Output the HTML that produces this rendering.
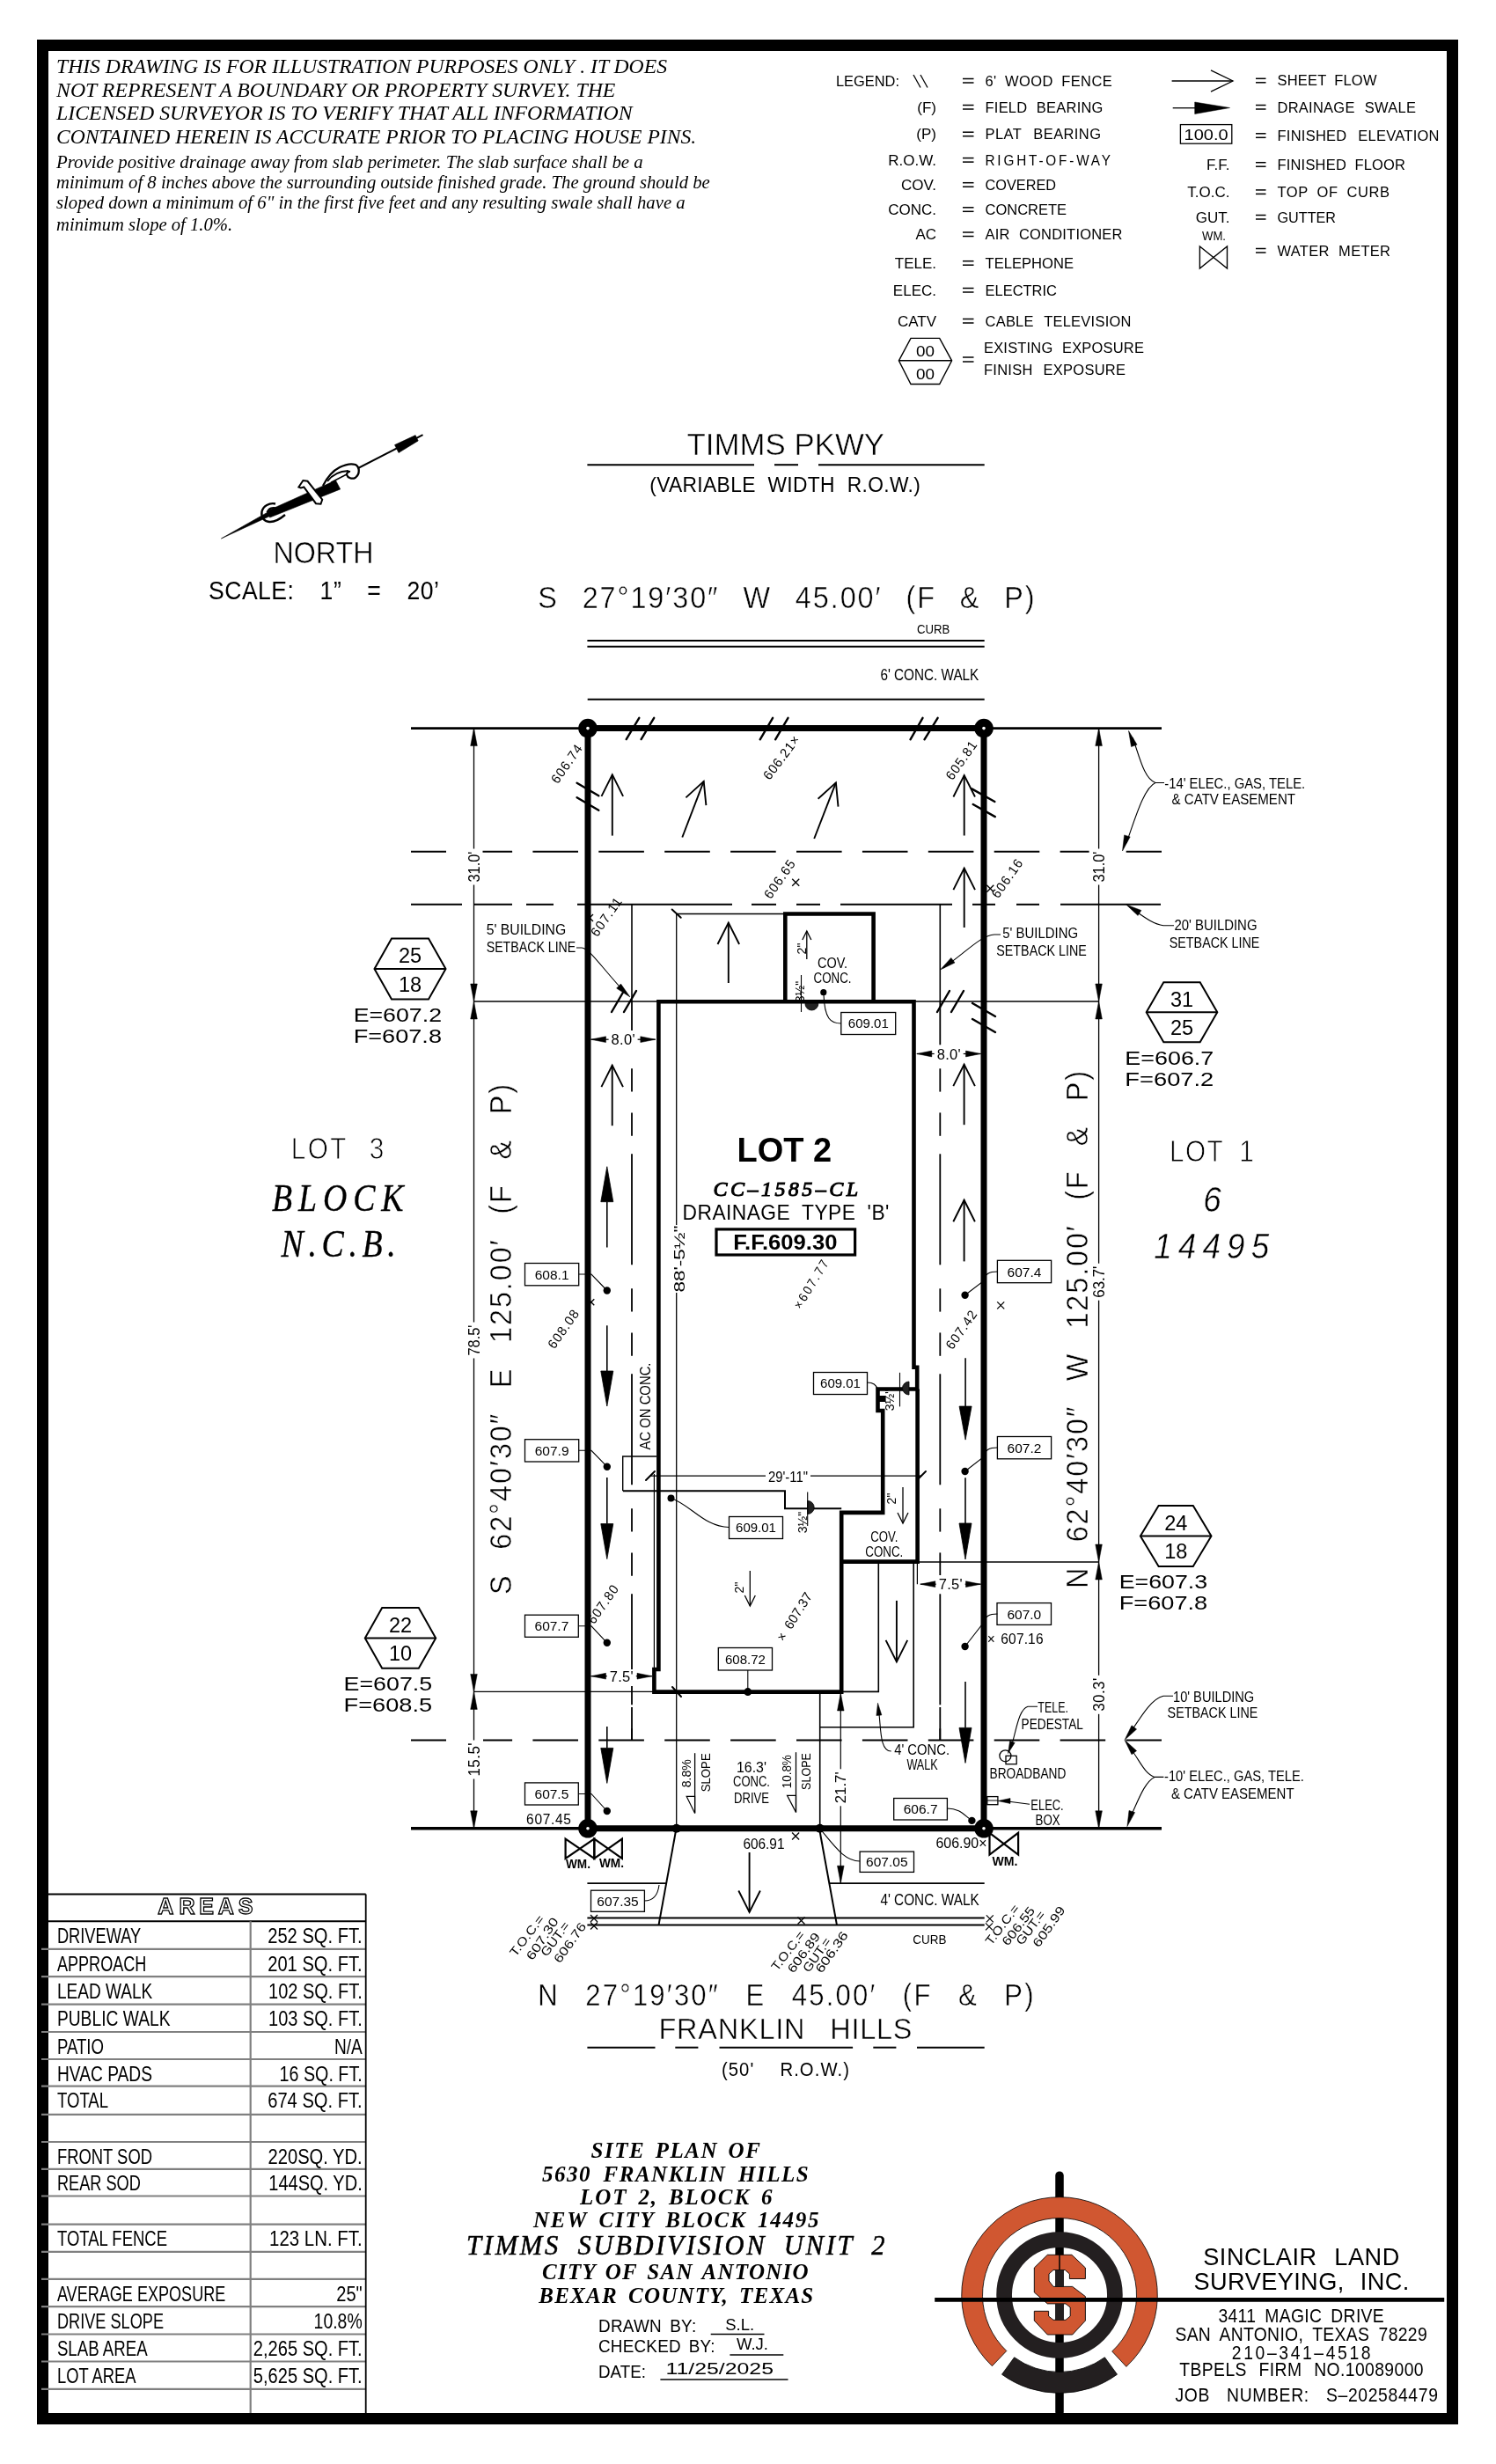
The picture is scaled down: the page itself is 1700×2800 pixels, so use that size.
<!DOCTYPE html>
<html><head><meta charset="utf-8"><title>Site Plan</title>
<style>
html,body{margin:0;padding:0;background:#fff;}
svg{display:block;will-change:transform;}
</style></head><body>
<svg width="1700" height="2800" viewBox="0 0 1700 2800">
<rect x="0" y="0" width="1700" height="2800" fill="#fff"/>
<g font-family='"Liberation Sans", sans-serif'>
<rect x="48.5" y="51.5" width="1602.0" height="2697.0" stroke="#000" stroke-width="13" fill="none"/>
<text font-size="23.5" font-family='"Liberation Serif", serif' font-style="italic" textLength="694.0" lengthAdjust="spacingAndGlyphs" transform="translate(64.0 83.4)" >THIS DRAWING IS FOR ILLUSTRATION PURPOSES ONLY . IT DOES</text>
<text font-size="23.5" font-family='"Liberation Serif", serif' font-style="italic" textLength="635.4" lengthAdjust="spacingAndGlyphs" transform="translate(64.0 109.6)" >NOT REPRESENT A BOUNDARY OR PROPERTY SURVEY. THE</text>
<text font-size="23.5" font-family='"Liberation Serif", serif' font-style="italic" textLength="654.7" lengthAdjust="spacingAndGlyphs" transform="translate(64.0 136.4)" >LICENSED SURVEYOR IS TO VERIFY THAT ALL INFORMATION</text>
<text font-size="23.5" font-family='"Liberation Serif", serif' font-style="italic" textLength="727.1" lengthAdjust="spacingAndGlyphs" transform="translate(64.0 163.3)" >CONTAINED HEREIN IS ACCURATE PRIOR TO PLACING HOUSE PINS.</text>
<text font-size="20" font-family='"Liberation Serif", serif' font-style="italic" textLength="666.7" lengthAdjust="spacingAndGlyphs" transform="translate(64.0 191.0)" >Provide positive drainage away from slab perimeter. The slab surface shall be a</text>
<text font-size="20" font-family='"Liberation Serif", serif' font-style="italic" textLength="742.7" lengthAdjust="spacingAndGlyphs" transform="translate(64.0 214.4)" >minimum of 8 inches above the surrounding outside finished grade. The ground should be</text>
<text font-size="20" font-family='"Liberation Serif", serif' font-style="italic" textLength="714.6" lengthAdjust="spacingAndGlyphs" transform="translate(64.0 237.4)" >sloped down a minimum of 6" in the first five feet and any resulting swale shall have a</text>
<text font-size="20" font-family='"Liberation Serif", serif' font-style="italic" textLength="200.2" lengthAdjust="spacingAndGlyphs" transform="translate(64.0 262.4)" >minimum slope of 1.0%.</text>
<text font-size="17" textLength="72.0" lengthAdjust="spacingAndGlyphs" transform="translate(950.0 97.5)" >LEGEND:</text>
<line x1="1038.0" y1="85.0" x2="1046.0" y2="99.5" stroke="#000" stroke-width="1.3" />
<line x1="1046.0" y1="85.0" x2="1054.0" y2="99.5" stroke="#000" stroke-width="1.3" />
<line x1="1094.0" y1="89.5" x2="1106.5" y2="89.5" stroke="#000" stroke-width="1.5" />
<line x1="1094.0" y1="94.0" x2="1106.5" y2="94.0" stroke="#000" stroke-width="1.5" />
<text font-size="17" word-spacing="4.59" textLength="148.7" lengthAdjust="spacing" transform="translate(1119.5 97.5) scale(0.97 1)" >6' WOOD FENCE</text>
<text font-size="17" text-anchor="end" transform="translate(1064.0 127.5)" >(F)</text>
<line x1="1094.0" y1="119.5" x2="1106.5" y2="119.5" stroke="#000" stroke-width="1.5" />
<line x1="1094.0" y1="124.0" x2="1106.5" y2="124.0" stroke="#000" stroke-width="1.5" />
<text font-size="17" word-spacing="5.67" textLength="138.1" lengthAdjust="spacing" transform="translate(1119.5 127.5) scale(0.97 1)" >FIELD BEARING</text>
<text font-size="17" text-anchor="end" transform="translate(1064.0 158.2)" >(P)</text>
<line x1="1094.0" y1="150.2" x2="1106.5" y2="150.2" stroke="#000" stroke-width="1.5" />
<line x1="1094.0" y1="154.7" x2="1106.5" y2="154.7" stroke="#000" stroke-width="1.5" />
<text font-size="17" word-spacing="8.70" textLength="135.6" lengthAdjust="spacing" transform="translate(1119.5 158.2) scale(0.97 1)" >PLAT BEARING</text>
<text font-size="17" text-anchor="end" transform="translate(1064.0 187.6)" >R.O.W.</text>
<line x1="1094.0" y1="179.6" x2="1106.5" y2="179.6" stroke="#000" stroke-width="1.5" />
<line x1="1094.0" y1="184.1" x2="1106.5" y2="184.1" stroke="#000" stroke-width="1.5" />
<text font-size="17" textLength="158.3" lengthAdjust="spacing" transform="translate(1119.5 187.6) scale(0.9 1)" >RIGHT-OF-WAY</text>
<text font-size="17" text-anchor="end" transform="translate(1064.0 215.7)" >COV.</text>
<line x1="1094.0" y1="207.7" x2="1106.5" y2="207.7" stroke="#000" stroke-width="1.5" />
<line x1="1094.0" y1="212.2" x2="1106.5" y2="212.2" stroke="#000" stroke-width="1.5" />
<text font-size="17" textLength="80.5" lengthAdjust="spacingAndGlyphs" transform="translate(1119.5 215.7)" >COVERED</text>
<text font-size="17" text-anchor="end" transform="translate(1064.0 243.8)" >CONC.</text>
<line x1="1094.0" y1="235.8" x2="1106.5" y2="235.8" stroke="#000" stroke-width="1.5" />
<line x1="1094.0" y1="240.3" x2="1106.5" y2="240.3" stroke="#000" stroke-width="1.5" />
<text font-size="17" textLength="92.5" lengthAdjust="spacingAndGlyphs" transform="translate(1119.5 243.8)" >CONCRETE</text>
<text font-size="17" text-anchor="end" transform="translate(1064.0 272.0)" >AC</text>
<line x1="1094.0" y1="264.0" x2="1106.5" y2="264.0" stroke="#000" stroke-width="1.5" />
<line x1="1094.0" y1="268.5" x2="1106.5" y2="268.5" stroke="#000" stroke-width="1.5" />
<text font-size="17" word-spacing="5.70" textLength="160.8" lengthAdjust="spacing" transform="translate(1119.5 272.0) scale(0.97 1)" >AIR CONDITIONER</text>
<text font-size="17" text-anchor="end" transform="translate(1064.0 304.7)" >TELE.</text>
<line x1="1094.0" y1="296.7" x2="1106.5" y2="296.7" stroke="#000" stroke-width="1.5" />
<line x1="1094.0" y1="301.2" x2="1106.5" y2="301.2" stroke="#000" stroke-width="1.5" />
<text font-size="17" textLength="100.5" lengthAdjust="spacingAndGlyphs" transform="translate(1119.5 304.7)" >TELEPHONE</text>
<text font-size="17" text-anchor="end" transform="translate(1064.0 335.5)" >ELEC.</text>
<line x1="1094.0" y1="327.5" x2="1106.5" y2="327.5" stroke="#000" stroke-width="1.5" />
<line x1="1094.0" y1="332.0" x2="1106.5" y2="332.0" stroke="#000" stroke-width="1.5" />
<text font-size="17" textLength="81.5" lengthAdjust="spacingAndGlyphs" transform="translate(1119.5 335.5)" >ELECTRIC</text>
<text font-size="17" text-anchor="end" transform="translate(1064.0 370.5)" >CATV</text>
<line x1="1094.0" y1="362.5" x2="1106.5" y2="362.5" stroke="#000" stroke-width="1.5" />
<line x1="1094.0" y1="367.0" x2="1106.5" y2="367.0" stroke="#000" stroke-width="1.5" />
<text font-size="17" word-spacing="7.04" textLength="171.1" lengthAdjust="spacing" transform="translate(1119.5 370.5) scale(0.97 1)" >CABLE TELEVISION</text>
<polygon points="1021.4,409.8 1035.0,384.4 1067.7,384.4 1081.6,409.8 1067.7,436.5 1035.0,436.5" stroke="#000" stroke-width="1.4" fill="none" />
<line x1="1021.4" y1="409.8" x2="1081.6" y2="409.8" stroke="#000" stroke-width="1.4" />
<text font-size="17" text-anchor="middle" textLength="21.0" lengthAdjust="spacingAndGlyphs" transform="translate(1051.5 404.5)" >00</text>
<text font-size="17" text-anchor="middle" textLength="21.0" lengthAdjust="spacingAndGlyphs" transform="translate(1051.5 430.5)" >00</text>
<line x1="1094.0" y1="406.0" x2="1106.5" y2="406.0" stroke="#000" stroke-width="1.5" />
<line x1="1094.0" y1="411.0" x2="1106.5" y2="411.0" stroke="#000" stroke-width="1.5" />
<text font-size="17" word-spacing="5.90" textLength="187.6" lengthAdjust="spacing" transform="translate(1118.0 401.0) scale(0.97 1)" >EXISTING EXPOSURE</text>
<text font-size="17" word-spacing="7.19" textLength="166.0" lengthAdjust="spacing" transform="translate(1118.0 426.4) scale(0.97 1)" >FINISH EXPOSURE</text>
<line x1="1331.6" y1="92.0" x2="1401.0" y2="92.0" stroke="#000" stroke-width="1.3" />
<polyline points="1376.0,104.2 1401.0,92.0 1376.0,79.8" stroke="#000" stroke-width="1.3" fill="none" />
<line x1="1332.7" y1="122.7" x2="1358.0" y2="122.7" stroke="#000" stroke-width="1.3" />
<polygon points="1357.7,116.0 1397.5,122.5 1357.7,129.5" stroke="#000" stroke-width="0.5" fill="#000" />
<rect x="1341.4" y="141.6" width="58.4" height="21.6" stroke="#000" stroke-width="1.3" fill="none"/>
<text font-size="17" text-anchor="middle" textLength="50.0" lengthAdjust="spacingAndGlyphs" transform="translate(1370.6 159.3)" >100.0</text>
<line x1="1427.0" y1="89.3" x2="1438.5" y2="89.3" stroke="#000" stroke-width="1.5" />
<line x1="1427.0" y1="93.8" x2="1438.5" y2="93.8" stroke="#000" stroke-width="1.5" />
<text font-size="17" word-spacing="4.09" textLength="116.5" lengthAdjust="spacing" transform="translate(1451.5 97.3) scale(0.97 1)" >SHEET FLOW</text>
<line x1="1427.0" y1="119.5" x2="1438.5" y2="119.5" stroke="#000" stroke-width="1.5" />
<line x1="1427.0" y1="124.0" x2="1438.5" y2="124.0" stroke="#000" stroke-width="1.5" />
<text font-size="17" word-spacing="6.41" textLength="162.3" lengthAdjust="spacing" transform="translate(1451.5 127.5) scale(0.97 1)" >DRAINAGE SWALE</text>
<line x1="1427.0" y1="151.8" x2="1438.5" y2="151.8" stroke="#000" stroke-width="1.5" />
<line x1="1427.0" y1="156.3" x2="1438.5" y2="156.3" stroke="#000" stroke-width="1.5" />
<text font-size="17" word-spacing="8.28" textLength="189.7" lengthAdjust="spacing" transform="translate(1451.5 159.8) scale(0.97 1)" >FINISHED ELEVATION</text>
<text font-size="17" text-anchor="end" transform="translate(1397.5 192.7)" >F.F.</text>
<line x1="1427.0" y1="184.7" x2="1438.5" y2="184.7" stroke="#000" stroke-width="1.5" />
<line x1="1427.0" y1="189.2" x2="1438.5" y2="189.2" stroke="#000" stroke-width="1.5" />
<text font-size="17" word-spacing="4.80" textLength="150.0" lengthAdjust="spacing" transform="translate(1451.5 192.7) scale(0.97 1)" >FINISHED FLOOR</text>
<text font-size="17" text-anchor="end" transform="translate(1397.5 223.9)" >T.O.C.</text>
<line x1="1427.0" y1="215.9" x2="1438.5" y2="215.9" stroke="#000" stroke-width="1.5" />
<line x1="1427.0" y1="220.4" x2="1438.5" y2="220.4" stroke="#000" stroke-width="1.5" />
<text font-size="17" word-spacing="5.16" textLength="131.4" lengthAdjust="spacing" transform="translate(1451.5 223.9) scale(0.97 1)" >TOP OF CURB</text>
<text font-size="17" text-anchor="end" transform="translate(1397.5 252.5)" >GUT.</text>
<line x1="1427.0" y1="244.5" x2="1438.5" y2="244.5" stroke="#000" stroke-width="1.5" />
<line x1="1427.0" y1="249.0" x2="1438.5" y2="249.0" stroke="#000" stroke-width="1.5" />
<text font-size="17" textLength="66.5" lengthAdjust="spacingAndGlyphs" transform="translate(1451.5 252.5)" >GUTTER</text>
<line x1="1427.0" y1="282.5" x2="1438.5" y2="282.5" stroke="#000" stroke-width="1.5" />
<line x1="1427.0" y1="287.0" x2="1438.5" y2="287.0" stroke="#000" stroke-width="1.5" />
<text font-size="17" word-spacing="5.69" textLength="132.5" lengthAdjust="spacing" transform="translate(1451.5 290.5) scale(0.97 1)" >WATER METER</text>
<text font-size="14" text-anchor="middle" textLength="27.0" lengthAdjust="spacingAndGlyphs" transform="translate(1379.5 273.0)" >WM.</text>
<polygon points="1363.4,280.0 1394.5,305.0 1394.5,280.0 1363.4,305.0" stroke="#000" stroke-width="1.4" fill="none" />
<polygon points="251.4,612.0 305.3,581.4 307.7,586.0" stroke="#000" stroke-width="0.6" fill="#000" />
<polygon points="302.9,581.0 381.4,545.7 386.7,555.9 306.6,588.1" stroke="#000" stroke-width="0.6" fill="#000" />
<line x1="375.9" y1="548.0" x2="480.5" y2="494.2" stroke="#000" stroke-width="2" />
<polygon points="448.5,505.6 472.1,494.6 475.2,500.9 453.0,514.5" stroke="#000" stroke-width="0.6" fill="#000" />
<path d="M313,572.5 C306,571 299,575 297.5,581.5 C296.5,588 300,592.5 306,593 C312,593.5 318,590 324,585" stroke="#000" stroke-width="2.4" fill="none" />
<path d="M304,582 C305,577.5 310,576 315,578 C318,580 316,584 312,584" stroke="#000" stroke-width="2" fill="none" />
<polygon points="339.4,553.5 344.4,546.0 349.5,546.8 366.2,567.7 364.5,572.7 359.0,572.2 345.3,553.5 341.9,554.4" stroke="#000" stroke-width="2" fill="#fff" />
<path d="M367,552 C372,542 378,535 386,531 C392,528 399,526.5 404,528 C409,531 409,539 404,542.7 C400,545 395,543 394,539.5 C394,537 396,535.5 398,536" stroke="#000" stroke-width="2.3" fill="#fff" />
<path d="M372,547 C377,540 385,535.5 396,535" stroke="#000" stroke-width="1.8" fill="none" />
<text font-size="35.5" text-anchor="middle" textLength="114.0" lengthAdjust="spacingAndGlyphs" transform="translate(367.5 640.0)" stroke="#fff" stroke-width="0.5" >NORTH</text>
<text font-size="29.5" word-spacing="23.63" textLength="291.1" lengthAdjust="spacing" transform="translate(237.0 680.5) scale(0.9 1)" >SCALE: 1” = 20’</text>
<text font-size="35" text-anchor="middle" textLength="224.5" lengthAdjust="spacingAndGlyphs" transform="translate(892.8 517.0)" stroke="#fff" stroke-width="0.5" >TIMMS PKWY</text>
<line x1="667.4" y1="528.2" x2="857.0" y2="528.2" stroke="#000" stroke-width="2" />
<line x1="880.0" y1="528.2" x2="907.0" y2="528.2" stroke="#000" stroke-width="2" />
<line x1="930.0" y1="528.2" x2="1118.7" y2="528.2" stroke="#000" stroke-width="2" />
<text font-size="23.5" text-anchor="middle" word-spacing="7.31" textLength="317.1" lengthAdjust="spacing" transform="translate(892.0 559.0) scale(0.97 1)" >(VARIABLE WIDTH R.O.W.)</text>
<text font-size="36" word-spacing="17.80" textLength="627.1" lengthAdjust="spacing" transform="translate(611.2 690.6) scale(0.9 1)" stroke="#fff" stroke-width="0.5" >S 27°19′30″ W 45.00′ (F &amp; P)</text>
<text font-size="14" textLength="37.3" lengthAdjust="spacingAndGlyphs" transform="translate(1042.0 719.5)" >CURB</text>
<line x1="667.4" y1="728.0" x2="1118.7" y2="728.0" stroke="#000" stroke-width="2" />
<line x1="667.4" y1="734.7" x2="1118.7" y2="734.7" stroke="#000" stroke-width="2" />
<text font-size="17.5" textLength="111.9" lengthAdjust="spacingAndGlyphs" transform="translate(1000.4 772.7)" >6' CONC. WALK</text>
<line x1="667.7" y1="794.8" x2="1118.7" y2="794.8" stroke="#000" stroke-width="2" />
<line x1="467.0" y1="827.6" x2="1320.0" y2="827.6" stroke="#000" stroke-width="2.6" />
<line x1="467.0" y1="2077.8" x2="1320.0" y2="2077.8" stroke="#000" stroke-width="3.4" />
<line x1="467.0" y1="967.7" x2="507.0" y2="967.7" stroke="#000" stroke-width="2" />
<line x1="548.5" y1="967.7" x2="582.1" y2="967.7" stroke="#000" stroke-width="2" />
<line x1="605.4" y1="967.7" x2="657.0" y2="967.7" stroke="#000" stroke-width="2" />
<line x1="680.3" y1="967.7" x2="731.9" y2="967.7" stroke="#000" stroke-width="2" />
<line x1="755.2" y1="967.7" x2="806.8" y2="967.7" stroke="#000" stroke-width="2" />
<line x1="830.1" y1="967.7" x2="881.7" y2="967.7" stroke="#000" stroke-width="2" />
<line x1="905.0" y1="967.7" x2="956.6" y2="967.7" stroke="#000" stroke-width="2" />
<line x1="979.9" y1="967.7" x2="1031.5" y2="967.7" stroke="#000" stroke-width="2" />
<line x1="1054.8" y1="967.7" x2="1106.4" y2="967.7" stroke="#000" stroke-width="2" />
<line x1="1129.7" y1="967.7" x2="1181.3" y2="967.7" stroke="#000" stroke-width="2" />
<line x1="1204.6" y1="967.7" x2="1237.6" y2="967.7" stroke="#000" stroke-width="2" />
<line x1="1279.7" y1="967.7" x2="1320.0" y2="967.7" stroke="#000" stroke-width="2" />
<line x1="467.0" y1="1027.8" x2="525.0" y2="1027.8" stroke="#000" stroke-width="2" />
<line x1="538.5" y1="1027.8" x2="582.0" y2="1027.8" stroke="#000" stroke-width="2" />
<line x1="598.0" y1="1027.8" x2="629.0" y2="1027.8" stroke="#000" stroke-width="2" />
<line x1="656.0" y1="1027.8" x2="832.0" y2="1027.8" stroke="#000" stroke-width="2" />
<line x1="854.0" y1="1027.8" x2="882.0" y2="1027.8" stroke="#000" stroke-width="2" />
<line x1="905.0" y1="1027.8" x2="932.0" y2="1027.8" stroke="#000" stroke-width="2" />
<line x1="955.0" y1="1027.8" x2="1082.0" y2="1027.8" stroke="#000" stroke-width="2" />
<line x1="1105.0" y1="1027.8" x2="1131.0" y2="1027.8" stroke="#000" stroke-width="2" />
<line x1="1155.0" y1="1027.8" x2="1181.0" y2="1027.8" stroke="#000" stroke-width="2" />
<line x1="1205.0" y1="1027.8" x2="1319.0" y2="1027.8" stroke="#000" stroke-width="2" />
<line x1="467.0" y1="1977.6" x2="507.0" y2="1977.6" stroke="#000" stroke-width="2" />
<line x1="549.0" y1="1977.6" x2="582.1" y2="1977.6" stroke="#000" stroke-width="2" />
<line x1="605.4" y1="1977.6" x2="657.0" y2="1977.6" stroke="#000" stroke-width="2" />
<line x1="680.3" y1="1977.6" x2="731.9" y2="1977.6" stroke="#000" stroke-width="2" />
<line x1="755.2" y1="1977.6" x2="806.8" y2="1977.6" stroke="#000" stroke-width="2" />
<line x1="830.1" y1="1977.6" x2="881.7" y2="1977.6" stroke="#000" stroke-width="2" />
<line x1="905.0" y1="1977.6" x2="956.6" y2="1977.6" stroke="#000" stroke-width="2" />
<line x1="979.9" y1="1977.6" x2="1031.5" y2="1977.6" stroke="#000" stroke-width="2" />
<line x1="1054.8" y1="1977.6" x2="1106.4" y2="1977.6" stroke="#000" stroke-width="2" />
<line x1="1129.7" y1="1977.6" x2="1181.3" y2="1977.6" stroke="#000" stroke-width="2" />
<line x1="1204.6" y1="1977.6" x2="1256.2" y2="1977.6" stroke="#000" stroke-width="2" />
<line x1="1279.5" y1="1977.6" x2="1320.0" y2="1977.6" stroke="#000" stroke-width="2" />
<line x1="538.5" y1="1138.0" x2="1248.5" y2="1138.0" stroke="#000" stroke-width="1.3" />
<line x1="538.5" y1="1922.4" x2="743.0" y2="1922.4" stroke="#000" stroke-width="1.3" />
<line x1="1042.0" y1="1775.0" x2="1248.8" y2="1775.0" stroke="#000" stroke-width="1.3" />
<line x1="718.0" y1="1027.8" x2="718.0" y2="1138.0" stroke="#000" stroke-width="1.6" />
<line x1="1068.3" y1="1027.8" x2="1068.3" y2="1138.0" stroke="#000" stroke-width="1.6" />
<line x1="718.0" y1="1138.0" x2="718.0" y2="1171.0" stroke="#000" stroke-width="1.8" />
<line x1="718.0" y1="1214.3" x2="718.0" y2="1240.6" stroke="#000" stroke-width="1.8" />
<line x1="718.0" y1="1264.4" x2="718.0" y2="1290.8" stroke="#000" stroke-width="1.8" />
<line x1="718.0" y1="1311.3" x2="718.0" y2="1437.3" stroke="#000" stroke-width="1.8" />
<line x1="718.0" y1="1464.3" x2="718.0" y2="1490.6" stroke="#000" stroke-width="1.8" />
<line x1="718.0" y1="1514.4" x2="718.0" y2="1540.8" stroke="#000" stroke-width="1.8" />
<line x1="718.0" y1="1561.3" x2="718.0" y2="1687.3" stroke="#000" stroke-width="1.8" />
<line x1="718.0" y1="1714.3" x2="718.0" y2="1740.6" stroke="#000" stroke-width="1.8" />
<line x1="718.0" y1="1764.4" x2="718.0" y2="1790.8" stroke="#000" stroke-width="1.8" />
<line x1="718.0" y1="1811.3" x2="718.0" y2="1897.0" stroke="#000" stroke-width="1.8" />
<line x1="718.0" y1="1916.0" x2="718.0" y2="1937.3" stroke="#000" stroke-width="1.8" />
<line x1="718.0" y1="1964.3" x2="718.0" y2="1977.6" stroke="#000" stroke-width="1.8" />
<line x1="718.0" y1="1940.0" x2="718.0" y2="1977.6" stroke="#000" stroke-width="1.8" />
<line x1="1068.3" y1="1138.0" x2="1068.3" y2="1187.3" stroke="#000" stroke-width="1.8" />
<line x1="1068.3" y1="1214.3" x2="1068.3" y2="1240.6" stroke="#000" stroke-width="1.8" />
<line x1="1068.3" y1="1264.4" x2="1068.3" y2="1290.8" stroke="#000" stroke-width="1.8" />
<line x1="1068.3" y1="1311.3" x2="1068.3" y2="1437.3" stroke="#000" stroke-width="1.8" />
<line x1="1068.3" y1="1464.3" x2="1068.3" y2="1490.6" stroke="#000" stroke-width="1.8" />
<line x1="1068.3" y1="1514.4" x2="1068.3" y2="1540.8" stroke="#000" stroke-width="1.8" />
<line x1="1068.3" y1="1561.3" x2="1068.3" y2="1687.3" stroke="#000" stroke-width="1.8" />
<line x1="1068.3" y1="1714.3" x2="1068.3" y2="1740.6" stroke="#000" stroke-width="1.8" />
<line x1="1068.3" y1="1764.4" x2="1068.3" y2="1790.0" stroke="#000" stroke-width="1.8" />
<line x1="1068.3" y1="1811.3" x2="1068.3" y2="1937.3" stroke="#000" stroke-width="1.8" />
<line x1="1068.3" y1="1964.3" x2="1068.3" y2="1977.6" stroke="#000" stroke-width="1.8" />
<line x1="1068.3" y1="1940.0" x2="1068.3" y2="1977.6" stroke="#000" stroke-width="1.8" />
<line x1="538.5" y1="827.6" x2="538.5" y2="2077.8" stroke="#000" stroke-width="1.3" />
<line x1="1248.6" y1="827.6" x2="1248.6" y2="2077.8" stroke="#000" stroke-width="1.3" />
<polygon points="542.3,847.6 538.5,827.6 534.7,847.6" stroke="#000" stroke-width="0.5" fill="#000" />
<polygon points="534.7,1118.0 538.5,1138.0 542.3,1118.0" stroke="#000" stroke-width="0.5" fill="#000" />
<polygon points="542.3,1158.0 538.5,1138.0 534.7,1158.0" stroke="#000" stroke-width="0.5" fill="#000" />
<polygon points="534.7,1902.4 538.5,1922.4 542.3,1902.4" stroke="#000" stroke-width="0.5" fill="#000" />
<polygon points="542.3,1942.4 538.5,1922.4 534.7,1942.4" stroke="#000" stroke-width="0.5" fill="#000" />
<polygon points="534.7,2057.8 538.5,2077.8 542.3,2057.8" stroke="#000" stroke-width="0.5" fill="#000" />
<polygon points="1252.4,847.6 1248.6,827.6 1244.8,847.6" stroke="#000" stroke-width="0.5" fill="#000" />
<polygon points="1244.8,1118.0 1248.6,1138.0 1252.4,1118.0" stroke="#000" stroke-width="0.5" fill="#000" />
<polygon points="1252.4,1158.0 1248.6,1138.0 1244.8,1158.0" stroke="#000" stroke-width="0.5" fill="#000" />
<polygon points="1244.8,1755.0 1248.6,1775.0 1252.4,1755.0" stroke="#000" stroke-width="0.5" fill="#000" />
<polygon points="1252.4,1795.0 1248.6,1775.0 1244.8,1795.0" stroke="#000" stroke-width="0.5" fill="#000" />
<polygon points="1244.8,2057.8 1248.6,2077.8 1252.4,2057.8" stroke="#000" stroke-width="0.5" fill="#000" />
<rect x="530.5" y="964.5" width="16.0" height="41.0" stroke="none" stroke-width="0" fill="#fff"/>
<text font-size="17.5" text-anchor="middle" textLength="35.0" lengthAdjust="spacingAndGlyphs" transform="translate(544.5 985.0) rotate(-90.0)" >31.0'</text>
<rect x="530.5" y="1502.5" width="16.0" height="41.0" stroke="none" stroke-width="0" fill="#fff"/>
<text font-size="17.5" text-anchor="middle" textLength="35.0" lengthAdjust="spacingAndGlyphs" transform="translate(544.5 1523.0) rotate(-90.0)" >78.5'</text>
<rect x="530.5" y="1977.5" width="16.0" height="44.0" stroke="none" stroke-width="0" fill="#fff"/>
<text font-size="17.5" text-anchor="middle" textLength="39.2" lengthAdjust="spacing" transform="translate(544.5 1999.5) rotate(-90.0) scale(0.97 1)" >15.5'</text>
<rect x="1240.6" y="964.5" width="16.0" height="41.0" stroke="none" stroke-width="0" fill="#fff"/>
<text font-size="17.5" text-anchor="middle" textLength="35.0" lengthAdjust="spacingAndGlyphs" transform="translate(1254.6 985.0) rotate(-90.0)" >31.0'</text>
<rect x="1240.6" y="1435.7" width="16.0" height="42.0" stroke="none" stroke-width="0" fill="#fff"/>
<text font-size="17.5" text-anchor="middle" textLength="36.0" lengthAdjust="spacingAndGlyphs" transform="translate(1254.6 1456.7) rotate(-90.0)" >63.7'</text>
<rect x="1240.6" y="1903.8" width="16.0" height="44.0" stroke="none" stroke-width="0" fill="#fff"/>
<text font-size="17.5" text-anchor="middle" textLength="39.2" lengthAdjust="spacing" transform="translate(1254.6 1925.8) rotate(-90.0) scale(0.97 1)" >30.3'</text>
<text font-size="36" text-anchor="middle" word-spacing="18.59" textLength="644.4" lengthAdjust="spacing" transform="translate(581.0 1522.0) rotate(-90.0) scale(0.9 1)" stroke="#fff" stroke-width="0.5" >S 62°40′30″ E 125.00′ (F &amp; P)</text>
<text font-size="36" text-anchor="middle" word-spacing="18.25" textLength="653.3" lengthAdjust="spacing" transform="translate(1235.5 1511.0) rotate(-90.0) scale(0.9 1)" stroke="#fff" stroke-width="0.5" >N 62°40′30″ W 125.00′ (F &amp; P)</text>
<polygon points="748.4,1138.3 1038.5,1138.3 1038.5,1553.7 1042.2,1553.7 1042.2,1578.5 997.5,1578.5 997.5,1603.0 1003.2,1603.0 1003.2,1718.9 956.2,1718.9 956.2,1922.6 743.4,1922.6 743.4,1897.0 748.4,1897.0" stroke="#000" stroke-width="4.6" fill="none" stroke-linejoin="miter"/>
<polyline points="892.3,1138.3 892.3,1038.5 992.6,1038.5 992.6,1138.3" stroke="#000" stroke-width="4.6" fill="none" />
<polyline points="956.2,1774.6 1042.6,1774.6 1042.6,1578.5" stroke="#000" stroke-width="4.6" fill="none" />
<polyline points="708.0,1694.3 892.0,1694.3 892.0,1714.2 956.2,1714.2" stroke="#000" stroke-width="2" fill="none" />
<polyline points="746.0,1655.0 707.7,1655.0 707.7,1694.3" stroke="#000" stroke-width="1.4" fill="none" />
<polyline points="956.2,1922.4 998.3,1922.4 998.3,1774.6" stroke="#000" stroke-width="1.6" fill="none" />
<polyline points="1038.2,1774.6 1038.2,1962.8 931.7,1962.8" stroke="#000" stroke-width="1.6" fill="none" />
<line x1="931.7" y1="1922.4" x2="931.7" y2="2077.8" stroke="#000" stroke-width="1.6" />
<line x1="768.7" y1="1038.5" x2="768.7" y2="2077.8" stroke="#000" stroke-width="1.3" />
<line x1="768.7" y1="1038.5" x2="892.3" y2="1038.5" stroke="#000" stroke-width="1.3" />
<line x1="763.7" y1="1033.5" x2="773.7" y2="1042.8" stroke="#000" stroke-width="2" stroke-linecap="round"/>
<line x1="764.0" y1="1917.0" x2="774.0" y2="1928.0" stroke="#000" stroke-width="2" stroke-linecap="round"/>
<line x1="743.4" y1="1675.0" x2="743.4" y2="1897.0" stroke="#000" stroke-width="1.2" />
<line x1="738.7" y1="1677.2" x2="870.0" y2="1677.2" stroke="#000" stroke-width="1.2" />
<line x1="921.0" y1="1677.2" x2="1047.6" y2="1677.2" stroke="#000" stroke-width="1.2" />
<line x1="734.0" y1="1682.0" x2="744.0" y2="1672.0" stroke="#000" stroke-width="2" stroke-linecap="round"/>
<line x1="1042.0" y1="1682.0" x2="1052.0" y2="1672.0" stroke="#000" stroke-width="2" stroke-linecap="round"/>
<text font-size="17" text-anchor="middle" textLength="45.0" lengthAdjust="spacingAndGlyphs" transform="translate(895.5 1684.0)" >29'-11"</text>
<line x1="1042.4" y1="1774.6" x2="1042.4" y2="1800.2" stroke="#000" stroke-width="1.2" />
<line x1="668.0" y1="827.6" x2="1118.0" y2="827.6" stroke="#000" stroke-width="7" />
<line x1="668.0" y1="827.6" x2="668.0" y2="2077.8" stroke="#000" stroke-width="7" />
<line x1="1118.0" y1="827.6" x2="1118.0" y2="2077.8" stroke="#000" stroke-width="7" />
<line x1="668.0" y1="2077.8" x2="1118.0" y2="2077.8" stroke="#000" stroke-width="7" />
<circle cx="668.0" cy="827.6" r="10.8" stroke="#000" stroke-width="0" fill="#000"/>
<circle cx="668.0" cy="827.6" r="1.8" stroke="#000" stroke-width="0" fill="#fff"/>
<circle cx="1118.0" cy="827.6" r="10.8" stroke="#000" stroke-width="0" fill="#000"/>
<circle cx="1118.0" cy="827.6" r="1.8" stroke="#000" stroke-width="0" fill="#fff"/>
<circle cx="668.0" cy="2077.8" r="10.8" stroke="#000" stroke-width="0" fill="#000"/>
<circle cx="668.0" cy="2077.8" r="1.8" stroke="#000" stroke-width="0" fill="#fff"/>
<circle cx="1118.0" cy="2077.8" r="10.8" stroke="#000" stroke-width="0" fill="#000"/>
<circle cx="1118.0" cy="2077.8" r="1.8" stroke="#000" stroke-width="0" fill="#fff"/>
<circle cx="768.7" cy="2077.8" r="5.0" stroke="#000" stroke-width="0" fill="#000"/>
<circle cx="931.7" cy="2077.8" r="5.0" stroke="#000" stroke-width="0" fill="#000"/>
<line x1="711.7" y1="840.1" x2="726.3" y2="815.8" stroke="#000" stroke-width="2.4" stroke-linecap="round"/>
<line x1="728.6" y1="840.1" x2="743.2" y2="815.8" stroke="#000" stroke-width="2.4" stroke-linecap="round"/>
<line x1="863.7" y1="840.3" x2="878.1" y2="815.8" stroke="#000" stroke-width="2.4" stroke-linecap="round"/>
<line x1="881.1" y1="840.3" x2="895.5" y2="815.8" stroke="#000" stroke-width="2.4" stroke-linecap="round"/>
<line x1="1034.5" y1="840.3" x2="1048.5" y2="815.8" stroke="#000" stroke-width="2.4" stroke-linecap="round"/>
<line x1="1050.5" y1="840.3" x2="1065.6" y2="815.8" stroke="#000" stroke-width="2.4" stroke-linecap="round"/>
<line x1="655.6" y1="889.7" x2="680.3" y2="904.3" stroke="#000" stroke-width="2.4" stroke-linecap="round"/>
<line x1="655.6" y1="906.2" x2="680.3" y2="920.8" stroke="#000" stroke-width="2.4" stroke-linecap="round"/>
<line x1="1104.3" y1="896.4" x2="1130.4" y2="911.0" stroke="#000" stroke-width="2.4" stroke-linecap="round"/>
<line x1="1105.7" y1="914.0" x2="1130.8" y2="928.1" stroke="#000" stroke-width="2.4" stroke-linecap="round"/>
<line x1="695.0" y1="1150.0" x2="709.0" y2="1126.0" stroke="#000" stroke-width="2.4" stroke-linecap="round"/>
<line x1="709.0" y1="1150.0" x2="723.0" y2="1126.0" stroke="#000" stroke-width="2.4" stroke-linecap="round"/>
<line x1="1065.0" y1="1150.0" x2="1079.0" y2="1126.0" stroke="#000" stroke-width="2.4" stroke-linecap="round"/>
<line x1="1081.0" y1="1150.0" x2="1095.0" y2="1126.0" stroke="#000" stroke-width="2.4" stroke-linecap="round"/>
<line x1="1105.0" y1="1140.0" x2="1131.0" y2="1155.0" stroke="#000" stroke-width="2.4" stroke-linecap="round"/>
<line x1="1105.0" y1="1158.0" x2="1131.0" y2="1173.0" stroke="#000" stroke-width="2.4" stroke-linecap="round"/>
<line x1="695.8" y1="949.6" x2="695.8" y2="880.4" stroke="#000" stroke-width="1.9" />
<polyline points="708.1,904.9 695.8,880.4 683.5,904.9" stroke="#000" stroke-width="1.9" fill="none" />
<line x1="775.3" y1="951.5" x2="799.7" y2="887.9" stroke="#000" stroke-width="1.9" />
<polyline points="802.4,915.2 799.7,887.9 779.4,906.4" stroke="#000" stroke-width="1.9" fill="none" />
<line x1="925.2" y1="953.0" x2="949.9" y2="889.4" stroke="#000" stroke-width="1.9" />
<polyline points="952.5,916.7 949.9,889.4 929.6,907.8" stroke="#000" stroke-width="1.9" fill="none" />
<line x1="1095.7" y1="949.5" x2="1095.7" y2="881.0" stroke="#000" stroke-width="1.9" />
<polyline points="1108.0,905.5 1095.7,881.0 1083.4,905.5" stroke="#000" stroke-width="1.9" fill="none" />
<line x1="1095.7" y1="1054.0" x2="1095.7" y2="986.6" stroke="#000" stroke-width="1.9" />
<polyline points="1108.0,1011.1 1095.7,986.6 1083.4,1011.1" stroke="#000" stroke-width="1.9" fill="none" />
<line x1="827.8" y1="1117.0" x2="827.8" y2="1048.5" stroke="#000" stroke-width="1.9" />
<polyline points="840.1,1073.0 827.8,1048.5 815.5,1073.0" stroke="#000" stroke-width="1.9" fill="none" />
<line x1="695.7" y1="1279.2" x2="695.7" y2="1210.6" stroke="#000" stroke-width="1.9" />
<polyline points="708.0,1235.1 695.7,1210.6 683.4,1235.1" stroke="#000" stroke-width="1.9" fill="none" />
<line x1="1095.6" y1="1278.2" x2="1095.6" y2="1209.6" stroke="#000" stroke-width="1.9" />
<polyline points="1107.9,1234.1 1095.6,1209.6 1083.3,1234.1" stroke="#000" stroke-width="1.9" fill="none" />
<line x1="1095.6" y1="1433.4" x2="1095.6" y2="1363.7" stroke="#000" stroke-width="1.9" />
<polyline points="1107.9,1388.2 1095.6,1363.7 1083.3,1388.2" stroke="#000" stroke-width="1.9" fill="none" />
<line x1="1018.9" y1="1818.9" x2="1018.9" y2="1888.4" stroke="#000" stroke-width="1.9" />
<polyline points="1006.6,1863.9 1018.9,1888.4 1031.2,1863.9" stroke="#000" stroke-width="1.9" fill="none" />
<line x1="851.6" y1="2105.0" x2="851.6" y2="2173.0" stroke="#000" stroke-width="1.9" />
<polyline points="839.3,2148.5 851.6,2173.0 863.9,2148.5" stroke="#000" stroke-width="1.9" fill="none" />
<line x1="916.8" y1="1090.0" x2="916.8" y2="1058.0" stroke="#000" stroke-width="1.3" />
<polyline points="921.8,1068.0 916.8,1058.0 911.8,1068.0" stroke="#000" stroke-width="1.3" fill="none" />
<line x1="852.3" y1="1785.0" x2="852.3" y2="1825.0" stroke="#000" stroke-width="1.3" />
<polyline points="846.3,1813.0 852.3,1825.0 858.3,1813.0" stroke="#000" stroke-width="1.3" fill="none" />
<line x1="1026.0" y1="1690.0" x2="1026.0" y2="1731.0" stroke="#000" stroke-width="1.3" />
<polyline points="1020.0,1719.0 1026.0,1731.0 1032.0,1719.0" stroke="#000" stroke-width="1.3" fill="none" />
<line x1="689.8" y1="1417.5" x2="689.8" y2="1365.7" stroke="#000" stroke-width="1.6" />
<polygon points="696.8,1365.7 689.8,1325.7 682.8,1365.7" stroke="#000" stroke-width="0.8" fill="#000" />
<line x1="689.8" y1="1506.2" x2="689.8" y2="1558.0" stroke="#000" stroke-width="1.6" />
<polygon points="682.8,1558.0 689.8,1598.0 696.8,1558.0" stroke="#000" stroke-width="0.8" fill="#000" />
<line x1="689.8" y1="1679.0" x2="689.8" y2="1731.6" stroke="#000" stroke-width="1.6" />
<polygon points="682.8,1731.6 689.8,1771.6 696.8,1731.6" stroke="#000" stroke-width="0.8" fill="#000" />
<line x1="689.8" y1="1962.0" x2="689.8" y2="1986.4" stroke="#000" stroke-width="1.6" />
<polygon points="682.8,1986.4 689.8,2026.4 696.8,1986.4" stroke="#000" stroke-width="0.8" fill="#000" />
<line x1="1097.1" y1="1543.2" x2="1097.1" y2="1598.1" stroke="#000" stroke-width="1.6" />
<polygon points="1090.1,1598.1 1097.1,1636.1 1104.1,1598.1" stroke="#000" stroke-width="0.8" fill="#000" />
<line x1="1097.0" y1="1679.2" x2="1097.0" y2="1731.0" stroke="#000" stroke-width="1.6" />
<polygon points="1090.0,1731.0 1097.0,1772.0 1104.0,1731.0" stroke="#000" stroke-width="0.8" fill="#000" />
<line x1="1097.0" y1="1911.0" x2="1097.0" y2="1963.4" stroke="#000" stroke-width="1.6" />
<polygon points="1090.0,1963.4 1097.0,2003.4 1104.0,1963.4" stroke="#000" stroke-width="0.8" fill="#000" />
<rect x="596.5" y="1435.5" width="61.2" height="25.3" stroke="#000" stroke-width="1.3" fill="none"/>
<text font-size="15.5" text-anchor="middle" transform="translate(627.1 1453.7)" >608.1</text>
<rect x="596.5" y="1635.7" width="61.2" height="25.3" stroke="#000" stroke-width="1.3" fill="none"/>
<text font-size="15.5" text-anchor="middle" transform="translate(627.1 1653.9)" >607.9</text>
<rect x="596.5" y="1835.2" width="60.8" height="25.1" stroke="#000" stroke-width="1.3" fill="none"/>
<text font-size="15.5" text-anchor="middle" transform="translate(626.9 1853.3)" >607.7</text>
<rect x="596.5" y="2025.9" width="60.8" height="25.1" stroke="#000" stroke-width="1.3" fill="none"/>
<text font-size="15.5" text-anchor="middle" transform="translate(626.9 2044.0)" >607.5</text>
<circle cx="689.8" cy="1466.5" r="4.2" stroke="#000" stroke-width="0" fill="#000"/>
<polyline points="657.7,1448.0 672.0,1448.0 689.8,1466.5" stroke="#000" stroke-width="1.1" fill="none" />
<circle cx="689.8" cy="1666.7" r="4.2" stroke="#000" stroke-width="0" fill="#000"/>
<polyline points="657.7,1648.3 672.0,1648.3 689.8,1666.7" stroke="#000" stroke-width="1.1" fill="none" />
<circle cx="689.8" cy="1866.8" r="4.2" stroke="#000" stroke-width="0" fill="#000"/>
<polyline points="657.7,1847.8 672.0,1847.8 689.8,1866.8" stroke="#000" stroke-width="1.1" fill="none" />
<circle cx="689.8" cy="2058.0" r="4.2" stroke="#000" stroke-width="0" fill="#000"/>
<polyline points="657.7,2038.5 672.0,2038.5 689.8,2058.0" stroke="#000" stroke-width="1.1" fill="none" />
<rect x="1133.4" y="1432.3" width="61.2" height="25.4" stroke="#000" stroke-width="1.3" fill="none"/>
<text font-size="15.5" text-anchor="middle" transform="translate(1164.0 1450.6)" >607.4</text>
<rect x="1133.4" y="1632.5" width="61.2" height="25.3" stroke="#000" stroke-width="1.3" fill="none"/>
<text font-size="15.5" text-anchor="middle" transform="translate(1164.0 1650.7)" >607.2</text>
<rect x="1133.0" y="1821.6" width="61.5" height="24.8" stroke="#000" stroke-width="1.3" fill="none"/>
<text font-size="15.5" text-anchor="middle" transform="translate(1163.8 1839.6)" >607.0</text>
<circle cx="1096.6" cy="1471.8" r="4.2" stroke="#000" stroke-width="0" fill="#000"/>
<path d="M1096.6,1471.8 L1116,1457 C1120,1447 1124,1445 1133.4,1445" stroke="#000" stroke-width="1.1" fill="none" />
<circle cx="1096.6" cy="1672.0" r="4.2" stroke="#000" stroke-width="0" fill="#000"/>
<path d="M1096.6,1672 L1116,1657 C1120,1647 1124,1645 1133.4,1645" stroke="#000" stroke-width="1.1" fill="none" />
<circle cx="1096.6" cy="1871.0" r="4.2" stroke="#000" stroke-width="0" fill="#000"/>
<path d="M1096.6,1871 L1116,1846 C1120,1836 1124,1834 1133.4,1834" stroke="#000" stroke-width="1.1" fill="none" />
<rect x="1015.7" y="2043.5" width="60.7" height="24.5" stroke="#000" stroke-width="1.3" fill="none"/>
<text font-size="15.5" text-anchor="middle" transform="translate(1046.1 2061.3)" >606.7</text>
<path d="M1076.4,2055 C1090,2055 1095,2062 1104.4,2068.9" stroke="#000" stroke-width="1.1" fill="none" />
<circle cx="1104.4" cy="2068.9" r="4.2" stroke="#000" stroke-width="0" fill="#000"/>
<rect x="955.8" y="1150.5" width="61.9" height="25.0" stroke="#000" stroke-width="1.3" fill="none"/>
<text font-size="15" text-anchor="middle" transform="translate(986.8 1168.4)" >609.01</text>
<path d="M955.8,1163 C944,1163 937,1158 936,1130" stroke="#000" stroke-width="1.1" fill="none" />
<circle cx="935.8" cy="1127.7" r="3.6" stroke="#000" stroke-width="0" fill="#000"/>
<rect x="924.5" y="1559.5" width="61.0" height="25.0" stroke="#000" stroke-width="1.3" fill="none"/>
<text font-size="15" text-anchor="middle" transform="translate(955.0 1577.4)" >609.01</text>
<path d="M985.5,1571 C993,1571 995,1574 997.5,1578.5" stroke="#000" stroke-width="1.1" fill="none" />
<rect x="998.4" y="1586.0" width="8.2" height="7.0" stroke="none" stroke-width="0" fill="#000"/>
<rect x="828.5" y="1723.5" width="61.0" height="25.0" stroke="#000" stroke-width="1.3" fill="none"/>
<text font-size="15" text-anchor="middle" transform="translate(859.0 1741.4)" >609.01</text>
<path d="M828.5,1735.5 C800,1735 785,1710 762.5,1702.5" stroke="#000" stroke-width="1.1" fill="none" />
<circle cx="762.5" cy="1702.5" r="4.0" stroke="#000" stroke-width="0" fill="#000"/>
<rect x="816.3" y="1872.5" width="61.2" height="25.5" stroke="#000" stroke-width="1.3" fill="none"/>
<text font-size="15" text-anchor="middle" transform="translate(846.9 1890.7)" >608.72</text>
<line x1="849.8" y1="1898.0" x2="849.8" y2="1922.6" stroke="#000" stroke-width="1.1" />
<circle cx="849.8" cy="1922.6" r="4.5" stroke="#000" stroke-width="0" fill="#000"/>
<rect x="671.5" y="2148.2" width="60.9" height="24.1" stroke="#000" stroke-width="1.3" fill="none"/>
<text font-size="15.5" text-anchor="middle" transform="translate(702.0 2165.8)" >607.35</text>
<path d="M732.4,2160 C745,2160 748,2150 749,2142" stroke="#000" stroke-width="1.1" fill="none" />
<rect x="977.1" y="2104.1" width="61.4" height="23.3" stroke="#000" stroke-width="1.3" fill="none"/>
<text font-size="15.5" text-anchor="middle" transform="translate(1007.8 2121.3)" >607.05</text>
<path d="M977.1,2115 C960,2115 950,2100 931.7,2078" stroke="#000" stroke-width="1.1" fill="none" />
<path d="M929.9,1140.5 A7.5,7.5 0 0 1 914.9,1140.5 Z" stroke="#000" stroke-width="0.8" fill="#222" />
<path d="M1033.0,1585.0 A7.5,7.5 0 0 1 1033.0,1570.0 Z" stroke="#000" stroke-width="0.8" fill="#222" />
<path d="M917.7,1705.5 A7.5,7.5 0 0 1 917.7,1720.5 Z" stroke="#000" stroke-width="0.8" fill="#222" />
<line x1="917.7" y1="1695.5" x2="917.7" y2="1734.0" stroke="#000" stroke-width="1.1" />
<line x1="1022.5" y1="1559.8" x2="1022.5" y2="1598.4" stroke="#000" stroke-width="1.1" />
<line x1="910.5" y1="1108.0" x2="910.5" y2="1150.0" stroke="#000" stroke-width="1.1" />
<text font-size="35" word-spacing="16.57" textLength="124.2" lengthAdjust="spacing" transform="translate(330.8 1316.7) scale(0.85 1)" stroke="#fff" stroke-width="0.9" >LOT 3</text>
<text font-size="44.5" font-family='"Liberation Serif", serif' font-style="italic" textLength="176.1" lengthAdjust="spacing" transform="translate(308.9 1375.6) scale(0.85 1)" stroke="#000" stroke-width="0.3">BLOCK</text>
<text font-size="44.5" font-family='"Liberation Serif", serif' font-style="italic" textLength="153.2" lengthAdjust="spacing" transform="translate(319.6 1428.2) scale(0.85 1)" stroke="#000" stroke-width="0.3">N.C.B.</text>
<text font-size="35" word-spacing="9.65" textLength="112.7" lengthAdjust="spacing" transform="translate(1329.0 1319.8) scale(0.85 1)" stroke="#fff" stroke-width="0.9" >LOT 1</text>
<text font-size="40" text-anchor="middle" font-style="italic" transform="translate(1377.5 1377.0) scale(0.92 1)" stroke="#fff" stroke-width="0.5">6</text>
<text font-size="40" font-style="italic" textLength="142.4" lengthAdjust="spacing" transform="translate(1311.2 1430.0) scale(0.92 1)" stroke="#fff" stroke-width="0.5">14495</text>
<polygon points="425.5,1101.0 445.0,1066.6 487.0,1066.6 506.5,1101.0 487.0,1135.4 445.0,1135.4" stroke="#000" stroke-width="2" fill="none" />
<line x1="425.5" y1="1101.0" x2="506.5" y2="1101.0" stroke="#000" stroke-width="2" />
<text font-size="23.5" text-anchor="middle" transform="translate(466.0 1094.1)" >25</text>
<text font-size="23.5" text-anchor="middle" transform="translate(466.0 1126.8)" >18</text>
<text font-size="22.8" textLength="100.3" lengthAdjust="spacingAndGlyphs" transform="translate(401.7 1161.1)" >E=607.2</text>
<text font-size="22.8" textLength="100.3" lengthAdjust="spacingAndGlyphs" transform="translate(401.7 1185.0)" >F=607.8</text>
<polygon points="1302.7,1150.3 1322.3,1116.3 1363.7,1116.3 1383.3,1150.3 1363.7,1184.3 1322.3,1184.3" stroke="#000" stroke-width="2" fill="none" />
<line x1="1302.7" y1="1150.3" x2="1383.3" y2="1150.3" stroke="#000" stroke-width="2" />
<text font-size="23.5" text-anchor="middle" transform="translate(1343.0 1143.5)" >31</text>
<text font-size="23.5" text-anchor="middle" transform="translate(1343.0 1175.8)" >25</text>
<text font-size="22.8" textLength="101.0" lengthAdjust="spacingAndGlyphs" transform="translate(1278.3 1210.4)" >E=606.7</text>
<text font-size="22.8" textLength="101.0" lengthAdjust="spacingAndGlyphs" transform="translate(1278.3 1234.3)" >F=607.2</text>
<polygon points="414.8,1861.4 434.2,1827.1 475.8,1827.1 495.2,1861.4 475.8,1895.7 434.2,1895.7" stroke="#000" stroke-width="2" fill="none" />
<line x1="414.8" y1="1861.4" x2="495.2" y2="1861.4" stroke="#000" stroke-width="2" />
<text font-size="23.5" text-anchor="middle" transform="translate(455.0 1854.5)" >22</text>
<text font-size="23.5" text-anchor="middle" transform="translate(455.0 1887.1)" >10</text>
<text font-size="22.8" textLength="100.6" lengthAdjust="spacingAndGlyphs" transform="translate(390.6 1921.1)" >E=607.5</text>
<text font-size="22.8" textLength="100.6" lengthAdjust="spacingAndGlyphs" transform="translate(390.6 1945.0)" >F=608.5</text>
<polygon points="1295.9,1745.5 1316.6,1711.1 1355.8,1711.1 1376.5,1745.5 1355.8,1779.9 1316.6,1779.9" stroke="#000" stroke-width="2" fill="none" />
<line x1="1295.9" y1="1745.5" x2="1376.5" y2="1745.5" stroke="#000" stroke-width="2" />
<text font-size="23.5" text-anchor="middle" transform="translate(1336.2 1738.6)" >24</text>
<text font-size="23.5" text-anchor="middle" transform="translate(1336.2 1771.3)" >18</text>
<text font-size="22.8" textLength="100.5" lengthAdjust="spacingAndGlyphs" transform="translate(1271.7 1805.1)" >E=607.3</text>
<text font-size="22.8" textLength="100.5" lengthAdjust="spacingAndGlyphs" transform="translate(1271.7 1829.1)" >F=607.8</text>
<text font-size="17" textLength="90.5" lengthAdjust="spacingAndGlyphs" transform="translate(552.7 1062.2)" >5' BUILDING</text>
<text font-size="17" textLength="101.6" lengthAdjust="spacingAndGlyphs" transform="translate(552.7 1082.2)" >SETBACK LINE</text>
<path d="M655,1077 L661,1077 C670,1078 680,1095 712,1130" stroke="#000" stroke-width="1.1" fill="none" />
<polygon points="700.6,1123.1 716.0,1133.0 705.5,1118.1" stroke="#000" stroke-width="0.5" fill="#000" />
<text font-size="17" textLength="85.7" lengthAdjust="spacingAndGlyphs" transform="translate(1139.3 1066.4)" >5' BUILDING</text>
<text font-size="17" textLength="102.5" lengthAdjust="spacingAndGlyphs" transform="translate(1132.3 1086.0)" >SETBACK LINE</text>
<path d="M1137,1062 L1130,1062 C1115,1063 1100,1080 1072,1100" stroke="#000" stroke-width="1.1" fill="none" />
<polygon points="1080.8,1088.4 1068.5,1102.0 1085.0,1094.0" stroke="#000" stroke-width="0.5" fill="#000" />
<text font-size="17" textLength="94.1" lengthAdjust="spacingAndGlyphs" transform="translate(1334.4 1057.4)" >20' BUILDING</text>
<text font-size="17" textLength="102.5" lengthAdjust="spacingAndGlyphs" transform="translate(1328.8 1076.5)" >SETBACK LINE</text>
<path d="M1334,1051.8 L1322,1051.8 C1310,1050 1300,1042 1284,1031" stroke="#000" stroke-width="1.1" fill="none" />
<polygon points="1296.9,1034.5 1279.7,1027.9 1293.1,1040.4" stroke="#000" stroke-width="0.5" fill="#000" />
<text font-size="17" textLength="160.0" lengthAdjust="spacingAndGlyphs" transform="translate(1323.2 896.0)" >-14' ELEC., GAS, TELE.</text>
<text font-size="17" textLength="140.4" lengthAdjust="spacingAndGlyphs" transform="translate(1331.6 914.2)" >&amp; CATV EASEMENT</text>
<path d="M1323,889.5 L1313,889.5 C1300,885 1295,860 1287,838" stroke="#000" stroke-width="1.1" fill="none" />
<polygon points="1292.1,846.2 1282.5,830.5 1285.5,848.6" stroke="#000" stroke-width="0.5" fill="#000" />
<path d="M1313,889.5 C1300,895 1290,930 1280,958" stroke="#000" stroke-width="1.1" fill="none" />
<polygon points="1277.6,948.9 1275.5,967.0 1284.2,950.9" stroke="#000" stroke-width="0.5" fill="#000" />
<text font-size="17" textLength="92.2" lengthAdjust="spacingAndGlyphs" transform="translate(1333.0 1933.5)" >10' BUILDING</text>
<text font-size="17" textLength="102.7" lengthAdjust="spacingAndGlyphs" transform="translate(1326.6 1952.1)" >SETBACK LINE</text>
<path d="M1333,1927.2 L1322,1927.2 C1310,1930 1300,1945 1285,1968" stroke="#000" stroke-width="1.1" fill="none" />
<polygon points="1286.0,1960.8 1278.0,1977.3 1291.6,1965.0" stroke="#000" stroke-width="0.5" fill="#000" />
<text font-size="17" textLength="158.9" lengthAdjust="spacingAndGlyphs" transform="translate(1323.0 2024.4)" >-10' ELEC., GAS, TELE.</text>
<text font-size="17" textLength="139.7" lengthAdjust="spacingAndGlyphs" transform="translate(1330.9 2043.6)" >&amp; CATV EASEMENT</text>
<path d="M1322.4,2019.4 L1312,2019.4 C1300,2015 1295,2000 1284,1986" stroke="#000" stroke-width="1.1" fill="none" />
<polygon points="1291.6,1989.6 1278.0,1977.3 1286.0,1993.8" stroke="#000" stroke-width="0.5" fill="#000" />
<path d="M1312,2019.4 C1300,2025 1292,2050 1284,2066" stroke="#000" stroke-width="1.1" fill="none" />
<polygon points="1283.0,2057.4 1280.9,2075.6 1289.6,2059.6" stroke="#000" stroke-width="0.5" fill="#000" />
<line x1="671.5" y1="1181.2" x2="691.6" y2="1181.2" stroke="#000" stroke-width="1.2" />
<line x1="724.6" y1="1181.2" x2="744.8" y2="1181.2" stroke="#000" stroke-width="1.2" />
<polygon points="688.5,1177.8 671.5,1181.2 688.5,1184.6" stroke="#000" stroke-width="0.5" fill="#000" />
<polygon points="727.8,1184.6 744.8,1181.2 727.8,1177.8" stroke="#000" stroke-width="0.5" fill="#000" />
<text font-size="17" text-anchor="middle" textLength="27.8" lengthAdjust="spacing" transform="translate(708.1 1187.4) scale(0.97 1)" >8.0'</text>
<line x1="1041.8" y1="1197.5" x2="1061.7" y2="1197.5" stroke="#000" stroke-width="1.2" />
<line x1="1094.7" y1="1197.5" x2="1114.5" y2="1197.5" stroke="#000" stroke-width="1.2" />
<polygon points="1058.8,1194.1 1041.8,1197.5 1058.8,1200.9" stroke="#000" stroke-width="0.5" fill="#000" />
<polygon points="1097.5,1200.9 1114.5,1197.5 1097.5,1194.1" stroke="#000" stroke-width="0.5" fill="#000" />
<text font-size="17" text-anchor="middle" textLength="27.8" lengthAdjust="spacing" transform="translate(1078.2 1203.7) scale(0.97 1)" >8.0'</text>
<line x1="671.5" y1="1904.7" x2="689.8" y2="1904.7" stroke="#000" stroke-width="1.2" />
<line x1="722.8" y1="1904.7" x2="741.0" y2="1904.7" stroke="#000" stroke-width="1.2" />
<polygon points="688.5,1901.3 671.5,1904.7 688.5,1908.1" stroke="#000" stroke-width="0.5" fill="#000" />
<polygon points="724.0,1908.1 741.0,1904.7 724.0,1901.3" stroke="#000" stroke-width="0.5" fill="#000" />
<text font-size="17" text-anchor="middle" textLength="27.8" lengthAdjust="spacing" transform="translate(706.2 1910.9) scale(0.97 1)" >7.5'</text>
<line x1="1045.8" y1="1800.2" x2="1063.7" y2="1800.2" stroke="#000" stroke-width="1.2" />
<line x1="1096.7" y1="1800.2" x2="1114.5" y2="1800.2" stroke="#000" stroke-width="1.2" />
<polygon points="1062.8,1796.8 1045.8,1800.2 1062.8,1803.6" stroke="#000" stroke-width="0.5" fill="#000" />
<polygon points="1097.5,1803.6 1114.5,1800.2 1097.5,1796.8" stroke="#000" stroke-width="0.5" fill="#000" />
<text font-size="17" text-anchor="middle" textLength="27.8" lengthAdjust="spacing" transform="translate(1080.2 1806.4) scale(0.97 1)" >7.5'</text>
<text font-size="39" text-anchor="middle" font-weight="bold" textLength="107.7" lengthAdjust="spacingAndGlyphs" transform="translate(891.3 1320.4)" >LOT 2</text>
<text font-size="24" font-family='"Liberation Serif", serif' text-anchor="middle" font-style="italic" textLength="164.7" lengthAdjust="spacing" transform="translate(892.8 1358.7)" stroke="#000" stroke-width="1.0">CC–1585–CL</text>
<text font-size="23.5" text-anchor="middle" word-spacing="6.71" textLength="242.1" lengthAdjust="spacing" transform="translate(893.0 1386.0) scale(0.97 1)" >DRAINAGE TYPE 'B'</text>
<rect x="814.0" y="1396.9" width="157.6" height="29.1" stroke="#000" stroke-width="3.2" fill="none"/>
<text font-size="23" text-anchor="middle" font-weight="bold" textLength="118.2" lengthAdjust="spacingAndGlyphs" transform="translate(892.3 1419.6)" >F.F.609.30</text>
<text font-size="14.5" text-anchor="middle" textLength="68.9" lengthAdjust="spacing" transform="translate(925.9 1462.0) rotate(-58.7) scale(0.9 1)" >×607.77</text>
<rect x="761.0" y="1392.0" width="16.0" height="77.0" stroke="none" stroke-width="0" fill="#fff"/>
<text font-size="17" text-anchor="middle" textLength="76.0" lengthAdjust="spacingAndGlyphs" transform="translate(777.5 1430.6) rotate(-90.0)" >88'-5½"</text>
<text font-size="17" text-anchor="middle" textLength="99.0" lengthAdjust="spacingAndGlyphs" transform="translate(739.0 1598.0) rotate(-90.0)" >AC ON CONC.</text>
<text font-size="16.5" text-anchor="middle" textLength="34.0" lengthAdjust="spacingAndGlyphs" transform="translate(946.0 1100.0)" >COV.</text>
<text font-size="16.5" text-anchor="middle" textLength="43.0" lengthAdjust="spacingAndGlyphs" transform="translate(946.0 1116.5)" >CONC.</text>
<text font-size="14" text-anchor="middle" transform="translate(915.5 1078.0) rotate(-90.0)" >2"</text>
<text font-size="14" text-anchor="middle" transform="translate(913.5 1127.0) rotate(-90.0)" >3½"</text>
<text font-size="16.5" text-anchor="middle" textLength="31.0" lengthAdjust="spacingAndGlyphs" transform="translate(1004.8 1752.0)" >COV.</text>
<text font-size="16.5" text-anchor="middle" textLength="43.0" lengthAdjust="spacingAndGlyphs" transform="translate(1004.8 1769.0)" >CONC.</text>
<text font-size="14" text-anchor="middle" transform="translate(1018.0 1703.0) rotate(-90.0)" >2"</text>
<text font-size="14" text-anchor="middle" transform="translate(1016.0 1591.0) rotate(-90.0)" >3½"</text>
<text font-size="14" text-anchor="middle" transform="translate(917.0 1730.0) rotate(-90.0)" >3½"</text>
<text font-size="14" text-anchor="middle" transform="translate(845.0 1804.0) rotate(-90.0)" >2"</text>
<text font-size="15" text-anchor="middle" word-spacing="3.32" textLength="63.9" lengthAdjust="spacing" transform="translate(907.0 1840.0) rotate(-58.0) scale(0.97 1)" >× 607.37</text>
<text font-size="15" text-anchor="middle" textLength="51.5" lengthAdjust="spacing" transform="translate(648.0 871.0) rotate(-55.0) scale(0.97 1)" >606.74</text>
<text font-size="15" text-anchor="middle" textLength="59.8" lengthAdjust="spacing" transform="translate(892.0 864.0) rotate(-53.0) scale(0.97 1)" >606.21×</text>
<text font-size="15" text-anchor="middle" textLength="51.5" lengthAdjust="spacing" transform="translate(1096.6 867.0) rotate(-55.0) scale(0.97 1)" >605.81</text>
<text font-size="15" text-anchor="middle" textLength="51.5" lengthAdjust="spacing" transform="translate(890.0 1002.0) rotate(-55.0) scale(0.97 1)" >606.65</text>
<text font-size="15" text-anchor="middle" textLength="51.5" lengthAdjust="spacing" transform="translate(1148.5 1001.4) rotate(-55.0) scale(0.97 1)" >606.16</text>
<text font-size="15" text-anchor="middle" textLength="51.5" lengthAdjust="spacing" transform="translate(693.0 1045.0) rotate(-55.0) scale(0.97 1)" >607.11</text>
<text font-size="15" text-anchor="middle" textLength="51.5" lengthAdjust="spacing" transform="translate(644.4 1513.3) rotate(-55.0) scale(0.97 1)" >608.08</text>
<text font-size="15" text-anchor="middle" textLength="51.5" lengthAdjust="spacing" transform="translate(1096.5 1514.0) rotate(-55.0) scale(0.97 1)" >607.42</text>
<text font-size="15" text-anchor="middle" textLength="51.5" lengthAdjust="spacing" transform="translate(689.4 1826.0) rotate(-55.0) scale(0.97 1)" >607.80</text>
<line x1="900.2" y1="998.7" x2="908.2" y2="1006.7" stroke="#000" stroke-width="1.3" />
<line x1="900.2" y1="1006.7" x2="908.2" y2="998.7" stroke="#000" stroke-width="1.3" />
<line x1="1121.3" y1="1005.7" x2="1129.3" y2="1013.7" stroke="#000" stroke-width="1.3" />
<line x1="1121.3" y1="1013.7" x2="1129.3" y2="1005.7" stroke="#000" stroke-width="1.3" />
<line x1="668.3" y1="1476.3" x2="675.3" y2="1483.3" stroke="#000" stroke-width="1.3" />
<line x1="668.3" y1="1483.3" x2="675.3" y2="1476.3" stroke="#000" stroke-width="1.3" />
<line x1="666.0" y1="1039.0" x2="674.0" y2="1047.0" stroke="#000" stroke-width="1.3" />
<line x1="666.0" y1="1047.0" x2="674.0" y2="1039.0" stroke="#000" stroke-width="1.3" />
<line x1="1133.2" y1="1479.4" x2="1141.2" y2="1487.4" stroke="#000" stroke-width="1.3" />
<line x1="1133.2" y1="1487.4" x2="1141.2" y2="1479.4" stroke="#000" stroke-width="1.3" />
<line x1="900.1" y1="2082.5" x2="908.1" y2="2090.5" stroke="#000" stroke-width="1.3" />
<line x1="900.1" y1="2090.5" x2="908.1" y2="2082.5" stroke="#000" stroke-width="1.3" />
<text font-size="16" word-spacing="1.92" textLength="65.7" lengthAdjust="spacing" transform="translate(1121.8 1867.8) scale(0.97 1)" >× 607.16</text>
<text font-size="16" textLength="52.4" lengthAdjust="spacing" transform="translate(598.1 2073.2) scale(0.97 1)" >607.45</text>
<text font-size="16" textLength="58.0" lengthAdjust="spacingAndGlyphs" transform="translate(1063.5 2099.6)" >606.90×</text>
<text font-size="16" textLength="47.1" lengthAdjust="spacingAndGlyphs" transform="translate(844.4 2100.5)" >606.91</text>
<polygon points="642.6,2089.6 675.3,2111.8 675.3,2089.6 642.6,2111.8" stroke="#000" stroke-width="2.2" fill="none" />
<polygon points="675.3,2089.6 706.9,2111.8 706.9,2089.6 675.3,2111.8" stroke="#000" stroke-width="2.2" fill="none" />
<text font-size="15" text-anchor="middle" font-weight="bold" textLength="28.0" lengthAdjust="spacingAndGlyphs" transform="translate(657.0 2123.0)" >WM.</text>
<text font-size="15" text-anchor="middle" font-weight="bold" textLength="28.0" lengthAdjust="spacingAndGlyphs" transform="translate(695.0 2122.0)" >WM.</text>
<polygon points="1124.5,2082.8 1157.1,2107.6 1157.1,2082.8 1124.5,2107.6" stroke="#000" stroke-width="2.2" fill="none" />
<text font-size="15" text-anchor="middle" font-weight="bold" textLength="29.0" lengthAdjust="spacingAndGlyphs" transform="translate(1142.0 2120.0)" >WM.</text>
<text font-size="15" text-anchor="middle" textLength="32.0" lengthAdjust="spacingAndGlyphs" transform="translate(784.5 2015.3) rotate(-90.0)" >8.8%</text>
<line x1="789.6" y1="1992.2" x2="789.6" y2="2060.4" stroke="#000" stroke-width="1.3" />
<polygon points="780.2,2041.4 789.6,2041.4 789.6,2060.4" stroke="#000" stroke-width="1.2" fill="none" />
<text font-size="15" text-anchor="middle" textLength="44.0" lengthAdjust="spacingAndGlyphs" transform="translate(806.5 2014.3) rotate(-90.0)" >SLOPE</text>
<text font-size="15" text-anchor="middle" textLength="38.0" lengthAdjust="spacingAndGlyphs" transform="translate(898.5 2013.2) rotate(-90.0)" >10.8%</text>
<line x1="904.5" y1="1991.2" x2="904.5" y2="2059.4" stroke="#000" stroke-width="1.3" />
<polygon points="894.5,2040.4 904.5,2040.4 904.5,2059.4" stroke="#000" stroke-width="1.2" fill="none" />
<text font-size="15" text-anchor="middle" textLength="42.0" lengthAdjust="spacingAndGlyphs" transform="translate(921.0 2013.0) rotate(-90.0)" >SLOPE</text>
<text font-size="16.5" text-anchor="middle" textLength="34.0" lengthAdjust="spacingAndGlyphs" transform="translate(854.0 2014.3)" >16.3'</text>
<text font-size="16.5" text-anchor="middle" textLength="42.0" lengthAdjust="spacingAndGlyphs" transform="translate(854.0 2030.3)" >CONC.</text>
<text font-size="16.5" text-anchor="middle" textLength="40.0" lengthAdjust="spacingAndGlyphs" transform="translate(854.0 2048.8)" >DRIVE</text>
<line x1="955.3" y1="1924.0" x2="955.3" y2="2140.2" stroke="#000" stroke-width="1.2" />
<polygon points="959.1,1944.0 955.3,1924.0 951.5,1944.0" stroke="#000" stroke-width="0.5" fill="#000" />
<polygon points="951.5,2120.2 955.3,2140.2 959.1,2120.2" stroke="#000" stroke-width="0.5" fill="#000" />
<rect x="947.3" y="2010.3" width="16.0" height="42.0" stroke="none" stroke-width="0" fill="#fff"/>
<text font-size="17" text-anchor="middle" textLength="36.0" lengthAdjust="spacingAndGlyphs" transform="translate(961.3 2031.3) rotate(-90.0)" >21.7'</text>
<text font-size="17" textLength="62.8" lengthAdjust="spacingAndGlyphs" transform="translate(1016.2 1994.0)" >4' CONC.</text>
<text font-size="17" textLength="35.3" lengthAdjust="spacingAndGlyphs" transform="translate(1030.4 2011.4)" >WALK</text>
<path d="M1012.7,1990 C1000,1990 1001,1965 999,1948" stroke="#000" stroke-width="1.1" fill="none" />
<polygon points="1001.9,1948.9 997.5,1935.2 995.9,1949.5" stroke="#000" stroke-width="0.5" fill="#000" />
<text font-size="16.5" textLength="34.7" lengthAdjust="spacingAndGlyphs" transform="translate(1179.3 1945.9)" >TELE.</text>
<text font-size="16.5" textLength="70.3" lengthAdjust="spacingAndGlyphs" transform="translate(1160.6 1965.4)" >PEDESTAL</text>
<path d="M1179,1939.2 L1168,1939.2 C1158,1942 1155,1965 1150,1982" stroke="#000" stroke-width="1.1" fill="none" />
<polygon points="1147.6,1978.3 1145.5,1992.5 1153.2,1980.4" stroke="#000" stroke-width="0.5" fill="#000" />
<circle cx="1142.4" cy="1995.3" r="6.5" stroke="#000" stroke-width="1.3" fill="none"/>
<rect x="1143.0" y="1995.3" width="12.2" height="9.4" stroke="#000" stroke-width="1.3" fill="none"/>
<text font-size="16.5" textLength="86.9" lengthAdjust="spacingAndGlyphs" transform="translate(1124.5 2020.7)" >BROADBAND</text>
<rect x="1121.8" y="2041.6" width="12.1" height="9.1" stroke="#000" stroke-width="1.3" fill="none"/>
<line x1="1121.8" y1="2046.0" x2="1133.9" y2="2046.0" stroke="#000" stroke-width="1" />
<text font-size="16.5" textLength="37.4" lengthAdjust="spacingAndGlyphs" transform="translate(1171.3 2056.8)" >ELEC.</text>
<text font-size="16.5" textLength="28.1" lengthAdjust="spacingAndGlyphs" transform="translate(1176.6 2074.2)" >BOX</text>
<line x1="1170.0" y1="2050.2" x2="1145.0" y2="2047.0" stroke="#000" stroke-width="1.1" />
<polygon points="1148.0,2043.5 1134.0,2046.5 1148.0,2049.5" stroke="#000" stroke-width="0.5" fill="#000" />
<line x1="768.5" y1="2077.8" x2="748.5" y2="2187.6" stroke="#000" stroke-width="2" />
<line x1="931.0" y1="2077.8" x2="951.0" y2="2187.6" stroke="#000" stroke-width="2" />
<line x1="667.4" y1="2140.2" x2="757.2" y2="2140.2" stroke="#000" stroke-width="1.8" />
<line x1="942.3" y1="2140.2" x2="1118.7" y2="2140.2" stroke="#000" stroke-width="1.8" />
<line x1="667.4" y1="2179.5" x2="1118.7" y2="2179.5" stroke="#000" stroke-width="2" />
<line x1="667.4" y1="2187.6" x2="1118.7" y2="2187.6" stroke="#000" stroke-width="2" />
<text font-size="17.5" textLength="112.3" lengthAdjust="spacingAndGlyphs" transform="translate(1000.4 2165.0)" >4' CONC. WALK</text>
<text font-size="15" textLength="38.1" lengthAdjust="spacingAndGlyphs" transform="translate(1037.3 2209.2)" >CURB</text>
<text font-size="34.5" word-spacing="20.57" textLength="625.8" lengthAdjust="spacing" transform="translate(611.3 2279.4) scale(0.9 1)" stroke="#fff" stroke-width="0.5" >N 27°19′30″ E 45.00′ (F &amp; P)</text>
<text font-size="33.5" word-spacing="18.74" textLength="296.9" lengthAdjust="spacing" transform="translate(748.5 2316.7) scale(0.97 1)" stroke="#fff" stroke-width="0.5" >FRANKLIN HILLS</text>
<line x1="667.4" y1="2326.7" x2="744.5" y2="2326.7" stroke="#000" stroke-width="2" />
<line x1="767.3" y1="2326.7" x2="793.4" y2="2326.7" stroke="#000" stroke-width="2" />
<line x1="817.5" y1="2326.7" x2="969.1" y2="2326.7" stroke="#000" stroke-width="2" />
<line x1="992.3" y1="2326.7" x2="1018.4" y2="2326.7" stroke="#000" stroke-width="2" />
<line x1="1042.0" y1="2326.7" x2="1118.7" y2="2326.7" stroke="#000" stroke-width="2" />
<text font-size="22.5" word-spacing="24.81" textLength="161.2" lengthAdjust="spacing" transform="translate(819.9 2358.8) scale(0.9 1)" >(50' R.O.W.)</text>
<line x1="671.0" y1="2176.0" x2="679.0" y2="2184.0" stroke="#000" stroke-width="1.2" />
<line x1="671.0" y1="2184.0" x2="679.0" y2="2176.0" stroke="#000" stroke-width="1.2" />
<line x1="671.0" y1="2184.5" x2="679.0" y2="2192.5" stroke="#000" stroke-width="1.2" />
<line x1="671.0" y1="2192.5" x2="679.0" y2="2184.5" stroke="#000" stroke-width="1.2" />
<line x1="906.5" y1="2178.5" x2="914.5" y2="2186.5" stroke="#000" stroke-width="1.2" />
<line x1="906.5" y1="2186.5" x2="914.5" y2="2178.5" stroke="#000" stroke-width="1.2" />
<line x1="1120.8" y1="2176.4" x2="1128.8" y2="2184.4" stroke="#000" stroke-width="1.2" />
<line x1="1120.8" y1="2184.4" x2="1128.8" y2="2176.4" stroke="#000" stroke-width="1.2" />
<line x1="1120.0" y1="2185.3" x2="1128.0" y2="2193.3" stroke="#000" stroke-width="1.2" />
<line x1="1120.0" y1="2193.3" x2="1128.0" y2="2185.3" stroke="#000" stroke-width="1.2" />
<text font-size="14" textLength="54.6" lengthAdjust="spacingAndGlyphs" transform="translate(586.0 2224.2) rotate(-52.5)" >T.O.C.=</text>
<text font-size="14" textLength="54.4" lengthAdjust="spacingAndGlyphs" transform="translate(605.3 2228.4) rotate(-56.6)" >607.30</text>
<text font-size="14" textLength="44.8" lengthAdjust="spacingAndGlyphs" transform="translate(621.3 2224.2) rotate(-53.3)" >GUT.=</text>
<text font-size="14" textLength="52.6" lengthAdjust="spacingAndGlyphs" transform="translate(636.3 2231.7) rotate(-54.5)" >606.76</text>
<text font-size="14" textLength="52.6" lengthAdjust="spacingAndGlyphs" transform="translate(883.3 2240.6) rotate(-52.5)" >T.O.C.=</text>
<text font-size="14" textLength="52.5" lengthAdjust="spacingAndGlyphs" transform="translate(901.7 2243.0) rotate(-54.0)" >606.89</text>
<text font-size="14" textLength="44.3" lengthAdjust="spacingAndGlyphs" transform="translate(919.3 2242.2) rotate(-54.6)" >GUT.=</text>
<text font-size="14" textLength="53.6" lengthAdjust="spacingAndGlyphs" transform="translate(933.8 2243.0) rotate(-55.3)" >606.36</text>
<text font-size="14" textLength="53.7" lengthAdjust="spacingAndGlyphs" transform="translate(1126.4 2211.3) rotate(-52.3)" >T.O.C.=</text>
<text font-size="14" textLength="51.5" lengthAdjust="spacingAndGlyphs" transform="translate(1145.3 2212.1) rotate(-52.6)" >606.55</text>
<text font-size="14" textLength="44.6" lengthAdjust="spacingAndGlyphs" transform="translate(1161.3 2211.3) rotate(-52.3)" >GUT.=</text>
<text font-size="14" textLength="52.9" lengthAdjust="spacingAndGlyphs" transform="translate(1180.6 2213.7) rotate(-54.9)" >605.99</text>
<line x1="55.0" y1="2152.6" x2="415.7" y2="2152.6" stroke="#000" stroke-width="2" />
<line x1="55.0" y1="2183.3" x2="415.7" y2="2183.3" stroke="#000" stroke-width="2" />
<line x1="47.0" y1="2214.9" x2="415.7" y2="2214.9" stroke="#808080" stroke-width="2.2" />
<line x1="47.0" y1="2246.1" x2="415.7" y2="2246.1" stroke="#808080" stroke-width="2.2" />
<line x1="47.0" y1="2277.7" x2="415.7" y2="2277.7" stroke="#808080" stroke-width="2.2" />
<line x1="47.0" y1="2309.0" x2="415.7" y2="2309.0" stroke="#808080" stroke-width="2.2" />
<line x1="47.0" y1="2340.0" x2="415.7" y2="2340.0" stroke="#808080" stroke-width="2.2" />
<line x1="47.0" y1="2370.7" x2="415.7" y2="2370.7" stroke="#808080" stroke-width="2.2" />
<line x1="47.0" y1="2402.8" x2="415.7" y2="2402.8" stroke="#808080" stroke-width="2.2" />
<line x1="47.0" y1="2434.0" x2="415.7" y2="2434.0" stroke="#808080" stroke-width="2.2" />
<line x1="47.0" y1="2464.8" x2="415.7" y2="2464.8" stroke="#808080" stroke-width="2.2" />
<line x1="47.0" y1="2495.5" x2="415.7" y2="2495.5" stroke="#808080" stroke-width="2.2" />
<line x1="47.0" y1="2527.6" x2="415.7" y2="2527.6" stroke="#808080" stroke-width="2.2" />
<line x1="47.0" y1="2558.9" x2="415.7" y2="2558.9" stroke="#808080" stroke-width="2.2" />
<line x1="47.0" y1="2589.9" x2="415.7" y2="2589.9" stroke="#808080" stroke-width="2.2" />
<line x1="47.0" y1="2621.2" x2="415.7" y2="2621.2" stroke="#808080" stroke-width="2.2" />
<line x1="47.0" y1="2652.5" x2="415.7" y2="2652.5" stroke="#808080" stroke-width="2.2" />
<line x1="47.0" y1="2683.5" x2="415.7" y2="2683.5" stroke="#808080" stroke-width="2.2" />
<line x1="47.0" y1="2714.8" x2="415.7" y2="2714.8" stroke="#808080" stroke-width="2.2" />
<line x1="284.7" y1="2183.3" x2="284.7" y2="2742.0" stroke="#808080" stroke-width="2.2" />
<line x1="415.7" y1="2152.6" x2="415.7" y2="2742.0" stroke="#000" stroke-width="1.8" />
<text font-size="25" text-anchor="middle" transform="translate(188.4 2175.3)" fill="#fff" stroke="#000" stroke-width="1.3" font-weight="bold">A</text>
<text font-size="25" text-anchor="middle" transform="translate(212.5 2175.3)" fill="#fff" stroke="#000" stroke-width="1.3" font-weight="bold">R</text>
<text font-size="25" text-anchor="middle" transform="translate(234.5 2175.3)" fill="#fff" stroke="#000" stroke-width="1.3" font-weight="bold">E</text>
<text font-size="25" text-anchor="middle" transform="translate(256.8 2175.3)" fill="#fff" stroke="#000" stroke-width="1.3" font-weight="bold">A</text>
<text font-size="25" text-anchor="middle" transform="translate(279.0 2175.3)" fill="#fff" stroke="#000" stroke-width="1.3" font-weight="bold">S</text>
<text font-size="24.3" textLength="95.4" lengthAdjust="spacingAndGlyphs" transform="translate(64.9 2207.9)" >DRIVEWAY</text>
<text font-size="24.3" text-anchor="end" textLength="107.5" lengthAdjust="spacingAndGlyphs" transform="translate(411.7 2207.9)" >252 SQ. FT.</text>
<text font-size="24.3" textLength="101.5" lengthAdjust="spacingAndGlyphs" transform="translate(64.9 2239.5)" >APPROACH</text>
<text font-size="24.3" text-anchor="end" textLength="107.5" lengthAdjust="spacingAndGlyphs" transform="translate(411.7 2239.5)" >201 SQ. FT.</text>
<text font-size="24.3" textLength="108.4" lengthAdjust="spacingAndGlyphs" transform="translate(64.9 2270.7)" >LEAD WALK</text>
<text font-size="24.3" text-anchor="end" textLength="106.7" lengthAdjust="spacingAndGlyphs" transform="translate(411.7 2270.7)" >102 SQ. FT.</text>
<text font-size="24.3" textLength="128.6" lengthAdjust="spacingAndGlyphs" transform="translate(64.9 2302.3)" >PUBLIC WALK</text>
<text font-size="24.3" text-anchor="end" textLength="106.7" lengthAdjust="spacingAndGlyphs" transform="translate(411.7 2302.3)" >103 SQ. FT.</text>
<text font-size="24.3" textLength="53.1" lengthAdjust="spacingAndGlyphs" transform="translate(64.9 2333.6)" >PATIO</text>
<text font-size="24.3" text-anchor="end" textLength="31.8" lengthAdjust="spacingAndGlyphs" transform="translate(411.7 2333.6)" >N/A</text>
<text font-size="24.3" textLength="108.1" lengthAdjust="spacingAndGlyphs" transform="translate(64.9 2364.6)" >HVAC PADS</text>
<text font-size="24.3" text-anchor="end" textLength="94.1" lengthAdjust="spacingAndGlyphs" transform="translate(411.7 2364.6)" >16 SQ. FT.</text>
<text font-size="24.3" textLength="58.2" lengthAdjust="spacingAndGlyphs" transform="translate(64.9 2395.3)" >TOTAL</text>
<text font-size="24.3" text-anchor="end" textLength="107.5" lengthAdjust="spacingAndGlyphs" transform="translate(411.7 2395.3)" >674 SQ. FT.</text>
<text font-size="24.3" textLength="108.1" lengthAdjust="spacingAndGlyphs" transform="translate(64.9 2458.6)" >FRONT SOD</text>
<text font-size="24.3" text-anchor="end" textLength="107.2" lengthAdjust="spacingAndGlyphs" transform="translate(411.7 2458.6)" >220SQ. YD.</text>
<text font-size="24.3" textLength="95.0" lengthAdjust="spacingAndGlyphs" transform="translate(64.9 2489.4)" >REAR SOD</text>
<text font-size="24.3" text-anchor="end" textLength="106.4" lengthAdjust="spacingAndGlyphs" transform="translate(411.7 2489.4)" >144SQ. YD.</text>
<text font-size="24.3" textLength="125.2" lengthAdjust="spacingAndGlyphs" transform="translate(64.9 2552.2)" >TOTAL FENCE</text>
<text font-size="24.3" text-anchor="end" textLength="105.6" lengthAdjust="spacingAndGlyphs" transform="translate(411.7 2552.2)" >123 LN. FT.</text>
<text font-size="24.3" textLength="191.4" lengthAdjust="spacingAndGlyphs" transform="translate(64.9 2614.5)" >AVERAGE EXPOSURE</text>
<text font-size="24.3" text-anchor="end" textLength="29.4" lengthAdjust="spacingAndGlyphs" transform="translate(411.7 2614.5)" >25"</text>
<text font-size="24.3" textLength="121.1" lengthAdjust="spacingAndGlyphs" transform="translate(64.9 2645.8)" >DRIVE SLOPE</text>
<text font-size="24.3" text-anchor="end" textLength="55.1" lengthAdjust="spacingAndGlyphs" transform="translate(411.7 2645.8)" >10.8%</text>
<text font-size="24.3" textLength="102.7" lengthAdjust="spacingAndGlyphs" transform="translate(64.9 2677.1)" >SLAB AREA</text>
<text font-size="24.3" text-anchor="end" textLength="123.9" lengthAdjust="spacingAndGlyphs" transform="translate(411.7 2677.1)" >2,265 SQ. FT.</text>
<text font-size="24.3" textLength="89.6" lengthAdjust="spacingAndGlyphs" transform="translate(64.9 2708.1)" >LOT AREA</text>
<text font-size="24.3" text-anchor="end" textLength="123.9" lengthAdjust="spacingAndGlyphs" transform="translate(411.7 2708.1)" >5,625 SQ. FT.</text>
<text font-size="25" font-family='"Liberation Serif", serif' font-weight="bold" font-style="italic" word-spacing="3.65" textLength="192.4" lengthAdjust="spacing" transform="translate(671.5 2451.8)" >SITE PLAN OF</text>
<text font-size="25" font-family='"Liberation Serif", serif' font-weight="bold" font-style="italic" word-spacing="5.80" textLength="302.6" lengthAdjust="spacing" transform="translate(616.0 2478.8)" >5630 FRANKLIN HILLS</text>
<text font-size="25" font-family='"Liberation Serif", serif' font-weight="bold" font-style="italic" word-spacing="3.64" textLength="218.3" lengthAdjust="spacing" transform="translate(659.1 2505.4)" >LOT 2, BLOCK 6</text>
<text font-size="25" font-family='"Liberation Serif", serif' font-weight="bold" font-style="italic" word-spacing="4.74" textLength="324.5" lengthAdjust="spacing" transform="translate(606.0 2531.2)" >NEW CITY BLOCK 14495</text>
<text font-size="25" font-family='"Liberation Serif", serif' font-weight="bold" font-style="italic" word-spacing="3.24" textLength="302.6" lengthAdjust="spacing" transform="translate(616.0 2590.3)" >CITY OF SAN ANTONIO</text>
<text font-size="25" font-family='"Liberation Serif", serif' font-weight="bold" font-style="italic" word-spacing="4.72" textLength="311.9" lengthAdjust="spacing" transform="translate(612.3 2617.3)" >BEXAR COUNTY, TEXAS</text>
<text font-size="30.5" font-family='"Liberation Serif", serif' font-style="italic" word-spacing="9.05" textLength="475.4" lengthAdjust="spacing" transform="translate(530.0 2562.3)" stroke="#000" stroke-width="0.5">TIMMS SUBDIVISION UNIT 2</text>
<text font-size="19.5" word-spacing="3.85" textLength="114.6" lengthAdjust="spacing" transform="translate(680.0 2650.4) scale(0.97 1)" >DRAWN BY:</text>
<text font-size="18.5" text-anchor="middle" transform="translate(840.7 2647.8)" >S.L.</text>
<line x1="807.7" y1="2652.5" x2="868.5" y2="2652.5" stroke="#000" stroke-width="1.6" />
<text font-size="19.5" word-spacing="3.62" textLength="136.7" lengthAdjust="spacing" transform="translate(680.0 2673.0) scale(0.97 1)" >CHECKED BY:</text>
<text font-size="18.5" text-anchor="middle" transform="translate(855.0 2670.4)" >W.J.</text>
<line x1="829.4" y1="2676.0" x2="890.3" y2="2676.0" stroke="#000" stroke-width="1.6" />
<text font-size="19.5" textLength="53.9" lengthAdjust="spacingAndGlyphs" transform="translate(680.0 2702.0)" >DATE:</text>
<text font-size="19" textLength="122.5" lengthAdjust="spacingAndGlyphs" transform="translate(756.5 2697.9)" >11/25/2025</text>
<line x1="750.4" y1="2704.0" x2="895.5" y2="2704.0" stroke="#000" stroke-width="1.6" />
<line x1="1204.0" y1="2472.2" x2="1204.0" y2="2741.1" stroke="#000" stroke-width="9.5" stroke-linecap="round"/>
<path d="M1127.4,2688.7 A111.3,111.3 0 1 1 1279.9,2689.4 L1263.7,2672.0 A87.5,87.5 0 1 0 1143.8,2671.5 Z" stroke="#000" stroke-width="0.8" fill="#d05731" />
<path d="M1269.5,2698.2 A111.5,111.5 0 0 1 1138.5,2698.2 L1152.6,2678.8 A87.5,87.5 0 0 0 1255.4,2678.8 Z" stroke="#000" stroke-width="0.8" fill="#231f20" />
<circle cx="1204.0" cy="2608.0" r="62.9" stroke="#231f20" stroke-width="17.7" fill="none"/>
<polygon points="1190.3,2562.3 1217.9,2562.3 1233.4,2577.0 1233.4,2589.5 1215.4,2589.5 1215.4,2584.0 1210.3,2579.5 1197.0,2579.5 1192.0,2584.0 1192.0,2592.0 1197.0,2598.4 1218.7,2598.4 1233.4,2609.6 1233.4,2637.1 1218.7,2653.0 1190.3,2653.0 1175.3,2637.1 1175.3,2626.3 1191.6,2626.3 1191.6,2632.0 1197.0,2636.3 1211.0,2636.3 1216.2,2632.0 1216.2,2622.0 1211.0,2617.9 1190.3,2617.9 1175.3,2605.0 1175.3,2577.0" stroke="#000" stroke-width="0.9" fill="#d05731" />
<line x1="1204.0" y1="2579.5" x2="1204.0" y2="2598.4" stroke="#231f20" stroke-width="9.5" />
<line x1="1204.0" y1="2617.9" x2="1204.0" y2="2636.3" stroke="#231f20" stroke-width="9.5" />
<line x1="1204.0" y1="2562.3" x2="1204.0" y2="2579.5" stroke="#000" stroke-width="1.5" />
<line x1="1062.2" y1="2613.3" x2="1641.2" y2="2613.3" stroke="#000" stroke-width="4.8" />
<text font-size="28" word-spacing="11.95" textLength="230.0" lengthAdjust="spacing" transform="translate(1367.2 2573.7) scale(0.97 1)" >SINCLAIR LAND</text>
<text font-size="28" word-spacing="10.59" textLength="252.3" lengthAdjust="spacing" transform="translate(1356.6 2602.3) scale(0.97 1)" >SURVEYING, INC.</text>
<text font-size="22.5" word-spacing="5.06" textLength="219.0" lengthAdjust="spacing" transform="translate(1384.4 2639.0) scale(0.86 1)" >3411 MAGIC DRIVE</text>
<text font-size="22.5" word-spacing="5.39" textLength="332.9" lengthAdjust="spacing" transform="translate(1335.4 2660.2) scale(0.86 1)" >SAN ANTONIO, TEXAS 78229</text>
<text font-size="22.5" textLength="183.5" lengthAdjust="spacing" transform="translate(1399.8 2681.4) scale(0.86 1)" >210–341–4518</text>
<text font-size="22.5" word-spacing="9.29" textLength="322.4" lengthAdjust="spacing" transform="translate(1340.3 2699.7) scale(0.86 1)" >TBPELS FIRM NO.10089000</text>
<text font-size="22.5" word-spacing="15.26" textLength="347.1" lengthAdjust="spacing" transform="translate(1335.4 2728.7) scale(0.86 1)" >JOB NUMBER: S–202584479</text>
</g>
</svg>
</body></html>
